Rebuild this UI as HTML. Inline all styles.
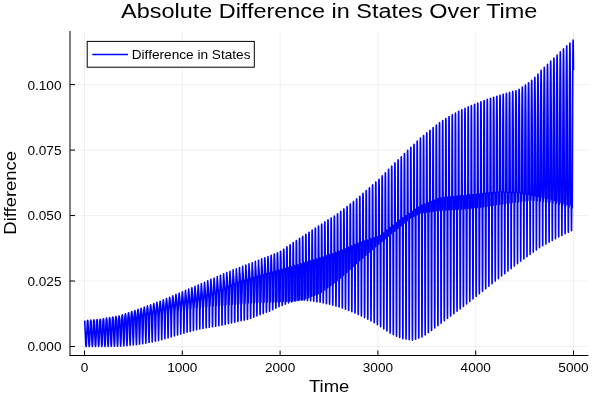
<!DOCTYPE html>
<html><head><meta charset="utf-8"><title>Absolute Difference in States Over Time</title>
<style>
html,body{margin:0;padding:0;background:#fff;}
body{width:600px;height:400px;overflow:hidden;font-family:"Liberation Sans",sans-serif;}
svg{display:block;will-change:transform;}
svg text{font-family:"Liberation Sans",sans-serif;}
</style></head><body>
<svg width="600" height="400" viewBox="0 0 600 400">
<rect x="0" y="0" width="600" height="400" fill="#ffffff"/>
<g stroke="#000" stroke-opacity="0.06" stroke-width="1" fill="none"><line x1="84.50" y1="31.0" x2="84.50" y2="355.5"/><line x1="182.30" y1="31.0" x2="182.30" y2="355.5"/><line x1="280.10" y1="31.0" x2="280.10" y2="355.5"/><line x1="377.90" y1="31.0" x2="377.90" y2="355.5"/><line x1="475.70" y1="31.0" x2="475.70" y2="355.5"/><line x1="573.50" y1="31.0" x2="573.50" y2="355.5"/><line x1="70.0" y1="346.50" x2="588.4" y2="346.50"/><line x1="70.0" y1="281.02" x2="588.4" y2="281.02"/><line x1="70.0" y1="215.55" x2="588.4" y2="215.55"/><line x1="70.0" y1="150.08" x2="588.4" y2="150.08"/><line x1="70.0" y1="84.60" x2="588.4" y2="84.60"/></g>
<polyline fill="none" stroke="#0000ff" stroke-width="1.6" stroke-linejoin="round" stroke-linecap="butt" points="84.50,320.7 84.60,320.9 84.70,321.3 84.79,322.2 84.89,324.4 84.99,326.6 85.09,328.8 85.18,331.0 85.28,333.2 85.38,335.4 85.48,337.7 85.58,339.9 85.67,342.1 85.77,344.3 85.87,345.5 85.97,346.1 86.06,346.5 86.07,346.5 86.16,346.1 86.26,345.6 86.36,344.7 86.46,342.4 86.55,340.2 86.65,338.0 86.75,335.7 86.85,333.5 86.94,331.2 87.04,328.9 87.14,326.7 87.24,324.4 87.34,322.1 87.43,321.2 87.53,320.7 87.63,320.4 87.65,320.4 87.73,320.6 87.83,321.0 87.92,321.5 88.02,323.4 88.12,325.7 88.22,328.0 88.31,330.2 88.41,332.5 88.51,334.8 88.61,337.0 88.71,339.3 88.80,341.5 88.90,343.8 89.00,345.2 89.10,345.9 89.19,346.4 89.22,346.5 89.29,346.2 89.39,345.6 89.49,344.8 89.59,342.7 89.68,340.4 89.78,338.1 89.88,335.8 89.98,333.5 90.07,331.2 90.17,328.9 90.27,326.6 90.37,324.2 90.47,321.9 90.56,321.0 90.66,320.5 90.76,320.2 90.79,320.1 90.86,320.3 90.95,320.6 91.05,321.1 91.15,322.4 91.25,324.7 91.35,327.0 91.44,329.4 91.54,331.7 91.64,334.0 91.74,336.3 91.83,338.7 91.93,341.0 92.03,343.3 92.13,344.9 92.23,345.7 92.32,346.3 92.37,346.5 92.42,346.2 92.52,345.6 92.62,344.8 92.72,343.0 92.81,340.7 92.91,338.3 93.01,336.0 93.11,333.6 93.20,331.2 93.30,328.9 93.40,326.5 93.50,324.0 93.60,321.6 93.69,320.9 93.79,320.3 93.89,320.0 93.94,319.8 93.99,319.9 94.08,320.3 94.18,320.8 94.28,321.5 94.38,323.7 94.48,326.1 94.57,328.5 94.67,330.9 94.77,333.3 94.87,335.6 94.96,338.0 95.06,340.4 95.16,342.7 95.26,344.6 95.36,345.5 95.45,346.1 95.51,346.4 95.55,346.3 95.65,345.6 95.75,344.8 95.84,343.3 95.94,340.9 96.04,338.5 96.14,336.1 96.24,333.7 96.33,331.3 96.43,328.8 96.53,326.3 96.63,323.9 96.72,321.4 96.82,320.7 96.92,320.1 97.02,319.7 97.09,319.6 97.12,319.6 97.21,319.9 97.31,320.4 97.41,321.0 97.51,322.6 97.61,325.1 97.70,327.6 97.80,330.0 97.90,332.5 98.00,334.9 98.09,337.3 98.19,339.8 98.29,342.2 98.39,344.3 98.49,345.2 98.58,346.0 98.66,346.4 98.68,346.3 98.78,345.7 98.88,344.8 98.97,343.6 99.07,341.2 99.17,338.7 99.27,336.3 99.37,333.8 99.46,331.3 99.56,328.8 99.66,326.2 99.76,323.7 99.85,321.3 99.95,320.5 100.05,319.9 100.15,319.5 100.24,319.3 100.25,319.3 100.34,319.5 100.44,320.0 100.54,320.6 100.64,321.5 100.73,324.0 100.83,326.5 100.93,329.1 101.03,331.6 101.13,334.1 101.22,336.6 101.32,339.1 101.42,341.6 101.52,343.9 101.61,344.9 101.71,345.8 101.81,346.4 101.81,346.4 101.91,345.7 102.01,344.9 102.10,343.8 102.20,341.4 102.30,338.9 102.40,336.4 102.50,333.8 102.59,331.2 102.69,328.6 102.79,326.0 102.89,323.4 102.98,321.0 103.08,320.2 103.18,319.5 103.28,319.0 103.38,318.7 103.38,318.7 103.47,318.9 103.57,319.4 103.67,320.0 103.77,320.8 103.86,322.7 103.96,325.4 104.06,328.0 104.16,330.6 104.26,333.2 104.35,335.8 104.45,338.3 104.55,340.9 104.65,343.4 104.74,344.6 104.84,345.5 104.94,346.3 104.96,346.4 105.04,345.8 105.14,344.9 105.23,343.8 105.33,341.7 105.43,339.1 105.53,336.5 105.62,333.8 105.72,331.2 105.82,328.5 105.92,325.8 106.02,323.0 106.11,320.7 106.21,319.8 106.31,319.1 106.41,318.6 106.50,318.2 106.53,318.1 106.60,318.3 106.70,318.8 106.80,319.4 106.90,320.1 106.99,321.4 107.09,324.1 107.19,326.8 107.29,329.5 107.39,332.2 107.48,334.9 107.58,337.6 107.68,340.2 107.78,342.8 107.87,344.2 107.97,345.3 108.07,346.1 108.10,346.4 108.17,345.9 108.27,344.9 108.36,343.8 108.46,341.9 108.56,339.3 108.66,336.6 108.75,333.9 108.85,331.1 108.95,328.3 109.05,325.5 109.15,322.7 109.24,320.4 109.34,319.5 109.44,318.7 109.54,318.1 109.63,317.7 109.68,317.6 109.73,317.7 109.83,318.2 109.93,318.8 110.03,319.5 110.12,320.4 110.22,322.8 110.32,325.6 110.42,328.4 110.51,331.2 110.61,333.9 110.71,336.7 110.81,339.4 110.91,342.1 111.00,343.8 111.10,344.9 111.20,345.9 111.25,346.3 111.30,345.9 111.39,345.0 111.49,343.8 111.59,342.1 111.69,339.4 111.79,336.6 111.88,333.7 111.98,330.9 112.08,328.0 112.18,325.0 112.28,322.0 112.37,320.0 112.47,319.1 112.57,318.3 112.67,317.7 112.76,317.2 112.82,317.0 112.86,317.1 112.96,317.5 113.06,318.0 113.16,318.8 113.25,319.6 113.35,321.0 113.45,323.9 113.55,326.8 113.64,329.7 113.74,332.6 113.84,335.5 113.94,338.4 114.04,341.2 114.13,343.2 114.23,344.5 114.33,345.6 114.40,346.3 114.43,346.0 114.52,344.9 114.62,343.6 114.72,342.2 114.82,339.3 114.92,336.4 115.01,333.4 115.11,330.5 115.21,327.4 115.31,324.4 115.40,321.2 115.50,319.6 115.60,318.6 115.70,317.8 115.80,317.2 115.89,316.7 115.97,316.4 115.99,316.5 116.09,316.8 116.19,317.4 116.28,318.0 116.38,318.8 116.48,319.8 116.58,322.1 116.68,325.1 116.77,328.2 116.87,331.2 116.97,334.2 117.07,337.2 117.17,340.2 117.26,342.4 117.36,344.0 117.46,345.3 117.54,346.3 117.56,346.2 117.65,345.0 117.75,343.5 117.85,341.9 117.95,339.3 118.05,336.2 118.14,333.2 118.24,330.0 118.34,326.9 118.44,323.6 118.53,320.4 118.63,319.1 118.73,318.1 118.83,317.3 118.93,316.7 119.02,316.2 119.12,315.9 119.12,315.9 119.22,316.2 119.32,316.7 119.41,317.3 119.51,318.0 119.61,319.0 119.71,320.1 119.81,323.3 119.90,326.5 120.00,329.7 120.10,332.8 120.20,335.9 120.29,339.0 120.39,341.6 120.49,343.3 120.59,344.8 120.69,346.2 120.69,346.2 120.78,344.9 120.88,343.4 120.98,341.7 121.08,339.1 121.17,336.0 121.27,332.7 121.37,329.5 121.47,326.1 121.57,322.7 121.66,319.6 121.76,318.4 121.86,317.5 121.96,316.6 122.06,315.9 122.15,315.4 122.25,315.0 122.26,314.9 122.35,315.2 122.45,315.6 122.54,316.2 122.64,317.0 122.74,317.9 122.84,318.9 122.94,321.0 123.03,324.4 123.13,327.8 123.23,331.1 123.33,334.3 123.42,337.6 123.52,340.5 123.62,342.4 123.72,344.1 123.82,345.6 123.84,345.9 123.91,344.8 124.01,343.1 124.11,341.3 124.21,338.9 124.30,335.6 124.40,332.2 124.50,328.7 124.60,325.2 124.70,321.7 124.79,318.8 124.89,317.7 124.99,316.6 125.09,315.8 125.18,315.0 125.28,314.4 125.38,313.9 125.41,313.8 125.48,314.0 125.58,314.5 125.67,315.1 125.77,315.8 125.87,316.7 125.97,317.7 126.06,318.9 126.16,322.2 126.26,325.7 126.36,329.2 126.46,332.6 126.55,336.1 126.65,339.3 126.75,341.3 126.85,343.2 126.95,344.9 126.99,345.6 127.04,344.6 127.14,342.8 127.24,340.9 127.34,338.7 127.43,335.2 127.53,331.6 127.63,328.0 127.73,324.3 127.83,320.6 127.92,318.1 128.02,316.9 128.12,315.8 128.22,314.9 128.31,314.1 128.41,313.5 128.51,312.9 128.56,312.7 128.61,312.9 128.71,313.4 128.80,314.0 128.90,314.7 129.00,315.6 129.10,316.6 129.19,317.7 129.29,319.7 129.39,323.4 129.49,327.1 129.59,330.8 129.68,334.4 129.78,338.0 129.88,340.2 129.98,342.3 130.07,344.2 130.13,345.3 130.17,344.5 130.27,342.6 130.37,340.5 130.47,338.2 130.56,334.8 130.66,331.0 130.76,327.2 130.86,323.3 130.95,319.4 131.05,317.3 131.15,316.1 131.25,315.0 131.35,314.1 131.44,313.2 131.54,312.5 131.64,311.9 131.71,311.6 131.74,311.7 131.84,312.2 131.93,312.8 132.03,313.5 132.13,314.4 132.23,315.4 132.32,316.5 132.42,317.7 132.52,321.0 132.62,324.9 132.72,328.8 132.81,332.6 132.91,336.4 133.01,339.0 133.11,341.3 133.20,343.5 133.28,345.0 133.30,344.5 133.40,342.4 133.50,340.2 133.60,337.7 133.69,334.4 133.79,330.4 133.89,326.4 133.99,322.3 134.08,318.2 134.18,316.6 134.28,315.3 134.38,314.2 134.48,313.2 134.57,312.3 134.67,311.6 134.77,310.9 134.85,310.5 134.87,310.6 134.96,311.0 135.06,311.6 135.16,312.4 135.26,313.2 135.36,314.2 135.45,315.3 135.55,316.5 135.65,318.4 135.75,322.5 135.84,326.6 135.94,330.7 136.04,334.7 136.14,337.7 136.24,340.2 136.33,342.6 136.43,344.7 136.43,344.5 136.53,342.3 136.63,339.9 136.73,337.2 136.82,334.0 136.92,329.8 137.02,325.6 137.12,321.3 137.21,317.3 137.31,315.9 137.41,314.6 137.51,313.4 137.61,312.4 137.70,311.5 137.80,310.7 137.90,310.0 138.00,309.4 138.00,309.4 138.09,309.9 138.19,310.5 138.29,311.3 138.39,312.1 138.49,313.1 138.58,314.2 138.68,315.5 138.78,316.9 138.88,320.5 138.97,324.9 139.07,329.3 139.17,333.6 139.27,336.8 139.37,339.6 139.46,342.2 139.55,344.3 139.56,344.1 139.66,341.6 139.76,338.8 139.85,335.9 139.95,332.3 140.05,327.8 140.15,323.2 140.25,318.6 140.34,316.1 140.44,314.7 140.54,313.4 140.64,312.2 140.74,311.2 140.83,310.2 140.93,309.4 141.03,308.7 141.10,308.3 141.13,308.4 141.22,309.0 141.32,309.6 141.42,310.4 141.52,311.3 141.62,312.3 141.71,313.4 141.81,314.6 141.91,316.0 142.01,318.9 142.10,323.4 142.20,328.0 142.30,332.4 142.40,335.6 142.50,338.5 142.59,341.3 142.69,343.8 142.69,343.6 142.79,341.0 142.89,338.2 142.98,335.2 143.08,331.8 143.18,327.2 143.28,322.5 143.38,317.7 143.47,315.6 143.57,314.2 143.67,312.8 143.77,311.6 143.86,310.5 143.96,309.5 144.06,308.6 144.16,307.9 144.26,307.2 144.27,307.1 144.35,307.5 144.45,308.1 144.55,308.9 144.65,309.7 144.74,310.7 144.84,311.8 144.94,313.0 145.04,314.3 145.14,315.7 145.23,319.3 145.33,324.1 145.43,328.9 145.53,332.8 145.62,336.1 145.72,339.2 145.82,342.1 145.86,343.1 145.92,341.4 146.02,338.6 146.11,335.4 146.21,332.1 146.31,327.8 146.41,322.9 146.51,317.9 146.60,315.5 146.70,313.9 146.80,312.5 146.90,311.2 146.99,310.0 147.09,308.9 147.19,307.9 147.29,307.1 147.39,306.3 147.44,305.9 147.48,306.2 147.58,306.7 147.68,307.4 147.78,308.2 147.87,309.1 147.97,310.2 148.07,311.3 148.17,312.6 148.27,314.0 148.36,315.5 148.46,319.9 148.56,325.0 148.66,329.7 148.75,333.3 148.85,336.7 148.95,340.0 149.03,342.5 149.05,342.0 149.15,338.9 149.24,335.8 149.34,332.3 149.44,328.6 149.54,323.4 149.63,318.1 149.73,315.4 149.83,313.8 149.93,312.3 150.03,310.8 150.12,309.6 150.22,308.4 150.32,307.3 150.42,306.4 150.51,305.5 150.61,304.8 150.62,304.8 150.71,305.3 150.81,305.9 150.91,306.7 151.00,307.6 151.10,308.6 151.20,309.7 151.30,310.9 151.40,312.3 151.49,313.8 151.59,315.4 151.69,320.6 151.79,326.1 151.88,330.1 151.98,334.0 152.08,337.6 152.18,341.0 152.20,341.9 152.28,339.4 152.37,336.1 152.47,332.6 152.57,328.7 152.67,324.0 152.76,318.4 152.86,315.4 152.96,313.7 153.06,312.1 153.16,310.6 153.25,309.2 153.35,307.9 153.45,306.7 153.55,305.7 153.64,304.8 153.74,303.9 153.79,303.6 153.84,303.9 153.94,304.6 154.04,305.2 154.13,306.0 154.23,307.0 154.33,308.1 154.43,309.3 154.52,310.6 154.62,312.0 154.72,313.6 154.82,315.7 154.92,321.6 155.01,326.5 155.11,330.8 155.21,334.8 155.31,338.7 155.38,341.2 155.41,340.1 155.50,336.5 155.60,332.9 155.70,328.9 155.80,324.7 155.89,318.9 155.99,315.5 156.09,313.7 156.19,311.9 156.29,310.3 156.38,308.9 156.48,307.5 156.58,306.2 156.68,305.1 156.77,304.1 156.87,303.2 156.96,302.4 156.97,302.5 157.07,303.2 157.17,303.8 157.26,304.5 157.36,305.5 157.46,306.5 157.56,307.7 157.65,308.9 157.75,310.3 157.85,311.8 157.95,313.5 158.05,316.5 158.14,322.3 158.24,327.1 158.34,331.6 158.44,336.0 158.53,340.1 158.55,340.6 158.63,337.1 158.73,333.1 158.83,329.1 158.93,324.7 159.02,319.4 159.12,315.6 159.22,313.7 159.32,311.9 159.41,310.2 159.51,308.6 159.61,307.1 159.71,305.8 159.81,304.6 159.90,303.4 160.00,302.4 160.10,301.5 160.13,301.2 160.20,301.7 160.30,302.4 160.39,303.1 160.49,303.9 160.59,304.9 160.69,306.0 160.78,307.2 160.88,308.6 160.98,310.0 161.08,311.6 161.18,313.3 161.27,317.7 161.37,323.1 161.47,328.2 161.57,333.0 161.66,337.5 161.72,339.8 161.76,338.1 161.86,333.9 161.96,329.6 162.06,325.1 162.15,320.1 162.25,315.5 162.35,313.5 162.45,311.6 162.54,309.9 162.64,308.2 162.74,306.6 162.84,305.2 162.94,303.9 163.03,302.7 163.13,301.6 163.23,300.6 163.31,299.9 163.33,300.0 163.42,300.8 163.52,301.5 163.62,302.3 163.72,303.1 163.82,304.2 163.91,305.3 164.01,306.6 164.11,308.0 164.21,309.6 164.30,311.2 164.40,312.9 164.50,318.8 164.60,324.6 164.70,330.0 164.79,334.8 164.89,338.8 164.89,338.8 164.99,334.9 165.09,330.5 165.19,325.7 165.28,320.7 165.38,315.4 165.48,313.4 165.58,311.4 165.67,309.5 165.77,307.8 165.87,306.2 165.97,304.6 166.07,303.2 166.16,301.9 166.26,300.8 166.36,299.7 166.46,298.7 166.48,298.5 166.55,299.1 166.65,299.9 166.75,300.7 166.85,301.4 166.95,302.4 167.04,303.5 167.14,304.7 167.24,306.1 167.34,307.6 167.43,309.1 167.53,310.8 167.63,313.7 167.73,320.3 167.83,326.4 167.92,331.9 168.02,336.4 168.06,337.9 168.12,336.0 168.22,331.5 168.31,326.5 168.41,321.1 168.51,315.3 168.61,313.2 168.71,311.2 168.80,309.3 168.90,307.4 169.00,305.7 169.10,304.1 169.19,302.6 169.29,301.3 169.39,300.0 169.49,298.8 169.59,297.8 169.65,297.2 169.68,297.4 169.78,298.2 169.88,299.0 169.98,299.9 170.07,300.7 170.17,301.7 170.27,302.9 170.37,304.2 170.47,305.6 170.56,307.1 170.66,308.8 170.76,310.5 170.86,315.2 170.96,322.3 171.05,328.5 171.15,333.7 171.24,336.9 171.25,336.6 171.35,332.7 171.44,327.5 171.54,321.7 171.64,315.4 171.74,313.1 171.84,311.0 171.93,309.0 172.03,307.1 172.13,305.3 172.23,303.7 172.32,302.1 172.42,300.6 172.52,299.3 172.62,298.0 172.72,296.9 172.81,295.9 172.82,295.8 172.91,296.6 173.01,297.4 173.11,298.2 173.20,299.1 173.30,299.9 173.40,301.0 173.50,302.3 173.60,303.7 173.69,305.1 173.79,306.7 173.89,308.4 173.99,309.4 174.08,317.2 174.18,324.5 174.28,330.6 174.38,335.2 174.41,336.0 174.48,333.7 174.57,328.8 174.67,322.7 174.77,315.9 174.87,312.1 174.97,310.9 175.06,308.8 175.16,306.9 175.26,305.0 175.36,303.3 175.45,301.6 175.55,300.1 175.65,298.7 175.75,297.3 175.85,296.1 175.94,295.0 175.99,294.4 176.04,294.9 176.14,295.7 176.24,296.6 176.33,297.5 176.43,298.4 176.53,299.3 176.63,300.5 176.73,301.9 176.82,303.4 176.92,305.0 177.02,306.7 177.12,308.0 177.21,311.3 177.31,319.9 177.41,327.1 177.51,332.6 177.58,335.0 177.61,334.5 177.70,330.3 177.80,324.3 177.90,317.3 178.00,311.4 178.09,311.2 178.19,309.3 178.29,307.2 178.39,305.2 178.49,303.3 178.58,301.5 178.68,299.8 178.78,298.2 178.88,296.8 178.97,295.4 179.07,294.2 179.17,293.1 179.17,293.1 179.27,294.0 179.37,295.0 179.46,295.9 179.56,296.9 179.66,297.9 179.76,298.8 179.86,300.2 179.95,301.7 180.05,303.3 180.15,305.1 180.25,306.9 180.34,307.5 180.44,314.3 180.54,322.9 180.64,329.6 180.74,333.8 180.75,334.1 180.83,331.5 180.93,326.1 181.03,319.0 181.13,310.8 181.22,310.8 181.32,309.8 181.42,307.8 181.52,305.6 181.62,303.5 181.71,301.5 181.81,299.7 181.91,298.0 182.01,296.3 182.10,294.8 182.20,293.5 182.30,292.2 182.34,291.7 182.40,292.3 182.50,293.3 182.59,294.3 182.69,295.4 182.79,296.4 182.89,297.4 182.98,298.5 183.08,300.0 183.18,301.6 183.28,303.4 183.38,305.3 183.47,306.3 183.57,307.2 183.67,317.6 183.77,325.9 183.86,331.6 183.92,333.2 183.96,332.4 184.06,327.8 184.16,320.9 184.26,312.2 184.35,310.1 184.45,310.1 184.55,308.3 184.65,306.1 184.75,303.8 184.84,301.7 184.94,299.7 185.04,297.8 185.14,296.0 185.23,294.4 185.33,292.9 185.43,291.4 185.51,290.4 185.53,290.6 185.63,291.6 185.72,292.7 185.82,293.8 185.92,294.9 186.02,295.9 186.11,297.0 186.21,298.2 186.31,299.9 186.41,301.7 186.51,303.6 186.60,305.1 186.70,305.8 186.80,310.8 186.90,321.1 186.99,328.5 187.09,332.3 187.10,332.3 187.19,329.2 187.29,322.9 187.39,314.1 187.48,309.5 187.58,309.5 187.68,308.6 187.78,306.7 187.87,304.4 187.97,302.0 188.07,299.8 188.17,297.8 188.27,295.8 188.36,294.0 188.46,292.4 188.56,290.8 188.66,289.4 188.68,289.0 188.75,289.9 188.85,291.0 188.95,292.1 189.05,293.3 189.15,294.4 189.24,295.6 189.34,296.7 189.44,298.1 189.54,299.9 189.63,301.8 189.73,303.8 189.83,304.5 189.93,305.2 190.03,314.8 190.12,324.5 190.22,330.4 190.27,331.4 190.32,330.3 190.42,324.9 190.52,316.3 190.61,308.9 190.71,308.9 190.81,308.8 190.91,307.0 191.00,305.0 191.10,302.5 191.20,300.2 191.30,297.9 191.40,295.8 191.49,293.8 191.59,292.0 191.69,290.3 191.79,288.7 191.86,287.7 191.88,288.1 191.98,289.3 192.08,290.4 192.18,291.6 192.28,292.9 192.37,294.1 192.47,295.3 192.57,296.5 192.67,298.1 192.76,300.0 192.86,302.1 192.96,303.2 193.06,304.0 193.16,306.2 193.25,319.0 193.35,327.4 193.44,330.6 193.45,330.5 193.55,326.6 193.64,318.6 193.74,308.3 193.84,308.2 193.94,308.2 194.04,307.4 194.13,305.4 194.23,303.2 194.33,300.6 194.43,298.2 194.52,295.9 194.62,293.7 194.72,291.7 194.82,289.9 194.92,288.1 195.01,286.6 195.03,286.4 195.11,287.5 195.21,288.7 195.31,290.0 195.41,291.2 195.50,292.5 195.60,293.7 195.70,295.0 195.80,296.3 195.89,298.0 195.99,300.1 196.09,301.8 196.19,302.6 196.29,303.4 196.38,311.1 196.48,323.0 196.58,329.1 196.61,329.7 196.68,328.0 196.77,321.1 196.87,309.8 196.97,307.8 197.07,307.8 197.17,307.8 197.26,306.0 197.36,303.8 197.46,301.5 197.56,298.8 197.65,296.2 197.75,293.8 197.85,291.6 197.95,289.5 198.05,287.7 198.14,285.9 198.20,285.0 198.24,285.6 198.34,286.9 198.44,288.1 198.53,289.4 198.63,290.7 198.73,291.9 198.83,293.2 198.93,294.5 199.02,295.8 199.12,297.8 199.22,300.1 199.32,301.0 199.41,301.9 199.51,302.8 199.61,316.1 199.71,326.1 199.79,329.0 199.81,328.8 199.90,323.7 200.00,313.3 200.10,307.5 200.20,307.5 200.30,307.5 200.39,306.9 200.49,304.6 200.59,302.3 200.69,299.7 200.78,296.9 200.88,294.2 200.98,291.7 201.08,289.4 201.18,287.3 201.27,285.4 201.37,283.7 201.38,283.6 201.47,284.9 201.57,286.2 201.66,287.4 201.76,288.7 201.86,290.1 201.96,291.4 202.06,292.7 202.15,294.0 202.25,295.3 202.35,297.7 202.45,299.1 202.54,300.2 202.64,301.2 202.74,307.6 202.84,321.7 202.94,328.0 202.96,328.4 203.03,326.5 203.13,318.5 203.23,307.2 203.33,307.2 203.42,307.2 203.52,307.1 203.62,305.5 203.72,303.1 203.82,300.7 203.91,297.8 204.01,294.9 204.11,292.1 204.21,289.5 204.31,287.2 204.40,285.0 204.50,283.1 204.55,282.2 204.60,282.9 204.70,284.3 204.79,285.4 204.89,286.8 204.99,288.1 205.09,289.5 205.19,290.8 205.28,292.2 205.38,293.5 205.48,295.0 205.58,297.1 205.67,298.3 205.77,299.4 205.87,300.6 205.97,315.4 206.07,325.5 206.14,327.8 206.16,327.6 206.26,322.7 206.36,312.0 206.46,306.9 206.55,306.8 206.65,306.8 206.75,306.6 206.85,304.0 206.95,301.5 207.04,298.9 207.14,295.8 207.24,292.7 207.34,289.9 207.43,287.2 207.53,284.8 207.63,282.7 207.73,280.8 207.73,280.7 207.83,282.3 207.92,283.6 208.02,284.8 208.12,286.2 208.22,287.6 208.31,288.9 208.41,290.3 208.51,291.7 208.61,293.1 208.71,294.8 208.80,296.1 208.90,297.4 209.00,298.7 209.10,306.7 209.19,321.4 209.29,327.1 209.32,327.3 209.39,325.5 209.49,317.4 209.59,306.5 209.68,306.5 209.78,306.5 209.88,306.5 209.98,305.2 210.08,302.5 210.17,299.8 210.27,297.1 210.37,293.7 210.47,290.5 210.56,287.6 210.66,284.9 210.76,282.5 210.86,280.3 210.91,279.3 210.96,280.2 211.05,281.7 211.15,283.0 211.25,284.2 211.35,285.6 211.44,287.0 211.54,288.4 211.64,289.8 211.74,291.2 211.84,292.7 211.93,293.8 212.03,295.2 212.13,296.6 212.23,298.0 212.32,315.1 212.42,325.0 212.49,326.8 212.52,326.6 212.62,321.7 212.72,310.5 212.81,306.2 212.91,306.2 213.01,306.2 213.11,306.2 213.20,303.6 213.30,300.8 213.40,298.0 213.50,295.1 213.60,291.5 213.69,288.2 213.79,285.2 213.89,282.5 213.99,280.0 214.08,278.0 214.09,278.0 214.18,279.7 214.28,281.2 214.38,282.3 214.48,283.7 214.57,285.1 214.67,286.5 214.77,288.0 214.87,289.4 214.97,290.8 215.06,292.0 215.16,292.8 215.26,294.3 215.36,295.9 215.45,305.8 215.55,321.1 215.65,326.2 215.67,326.3 215.75,324.5 215.85,316.3 215.94,305.4 216.04,305.9 216.14,305.9 216.24,305.9 216.33,304.9 216.43,302.0 216.53,299.0 216.63,296.0 216.73,292.9 216.82,289.2 216.92,285.8 217.02,282.7 217.12,280.0 217.21,277.5 217.26,276.6 217.31,277.6 217.41,279.3 217.51,280.5 217.61,281.7 217.70,283.1 217.80,284.6 217.90,286.0 218.00,287.5 218.09,288.9 218.19,290.4 218.29,290.6 218.39,291.7 218.49,293.4 218.58,295.1 218.68,314.7 218.78,324.4 218.85,325.8 218.88,325.6 218.97,320.7 219.07,308.8 219.17,305.6 219.27,305.6 219.37,305.6 219.46,305.6 219.56,303.3 219.66,300.2 219.76,297.1 219.86,294.0 219.95,290.6 220.05,286.7 220.15,283.2 220.25,280.1 220.34,277.4 220.44,275.2 220.44,275.3 220.54,277.2 220.64,278.7 220.74,279.9 220.83,281.1 220.93,282.6 221.03,284.0 221.13,285.5 221.22,287.0 221.32,288.4 221.42,289.2 221.52,289.1 221.62,290.7 221.71,292.6 221.81,304.7 221.91,320.6 222.01,325.1 222.02,325.1 222.10,323.3 222.20,314.8 222.30,304.0 222.40,305.4 222.50,305.4 222.59,305.3 222.69,304.9 222.79,301.6 222.89,298.3 222.98,295.1 223.08,291.8 223.18,288.1 223.28,284.2 223.38,280.7 223.47,277.6 223.57,274.9 223.61,273.9 223.67,275.1 223.77,276.9 223.87,278.3 223.96,279.2 224.06,280.6 224.16,282.1 224.26,283.5 224.35,285.0 224.45,286.5 224.55,287.8 224.65,287.8 224.75,287.7 224.84,289.7 224.94,291.8 225.04,314.0 225.14,323.3 225.20,324.4 225.23,324.1 225.33,319.2 225.43,306.7 225.53,304.2 225.63,305.1 225.72,305.1 225.82,305.1 225.92,303.2 226.02,299.8 226.11,296.3 226.21,292.9 226.31,289.5 226.41,285.5 226.51,281.5 226.60,278.0 226.70,274.9 226.79,272.6 226.80,272.8 226.90,274.9 226.99,276.5 227.09,277.7 227.19,278.6 227.29,280.1 227.39,281.6 227.48,283.0 227.58,284.5 227.68,286.0 227.78,286.4 227.87,286.3 227.97,286.7 228.07,288.9 228.17,303.4 228.27,319.7 228.36,323.6 228.38,323.6 228.46,321.9 228.56,313.0 228.66,302.3 228.75,304.6 228.85,304.8 228.95,304.8 229.05,304.8 229.15,301.4 229.24,297.8 229.34,294.2 229.44,290.6 229.54,287.0 229.64,282.8 229.73,278.8 229.83,275.3 229.93,272.2 229.96,271.2 230.03,272.7 230.12,274.7 230.22,276.1 230.32,277.0 230.42,278.1 230.52,279.6 230.61,281.1 230.71,282.6 230.81,284.1 230.91,285.0 231.00,285.0 231.10,284.9 231.20,285.9 231.30,288.3 231.40,313.1 231.49,322.1 231.55,322.9 231.59,322.7 231.69,317.6 231.79,304.4 231.88,303.0 231.98,304.5 232.08,304.5 232.18,304.5 232.28,303.1 232.37,299.4 232.47,295.7 232.57,291.9 232.67,288.2 232.76,284.3 232.86,279.8 232.96,275.8 233.06,272.4 233.14,269.9 233.16,270.3 233.25,272.6 233.35,274.3 233.45,275.4 233.55,276.1 233.65,277.6 233.74,279.1 233.84,280.6 233.94,282.1 234.04,283.6 234.13,283.6 234.23,283.5 234.33,283.5 234.43,285.8 234.53,302.4 234.62,318.6 234.72,322.2 234.73,322.2 234.82,320.3 234.92,311.2 235.01,301.4 235.11,304.1 235.21,304.3 235.31,304.3 235.41,304.3 235.50,301.2 235.60,297.3 235.70,293.5 235.80,289.6 235.89,285.7 235.99,281.1 236.09,276.7 236.19,272.9 236.29,269.6 236.32,268.7 236.38,270.4 236.48,272.3 236.58,273.7 236.68,274.5 236.77,275.7 236.87,277.2 236.97,278.7 237.07,280.2 237.17,281.7 237.26,282.2 237.36,282.2 237.46,282.1 237.56,283.1 237.65,286.5 237.75,312.1 237.85,320.8 237.91,321.5 237.95,321.2 238.05,315.9 238.14,302.8 238.24,302.6 238.34,304.0 238.44,304.0 238.53,304.0 238.63,303.2 238.73,299.2 238.83,295.1 238.93,291.1 239.02,287.0 239.12,282.8 239.22,277.9 239.32,273.6 239.42,270.0 239.49,267.5 239.51,268.0 239.61,270.3 239.71,272.0 239.81,273.0 239.90,273.7 240.00,275.2 240.10,276.7 240.20,278.2 240.30,279.8 240.39,280.9 240.49,280.9 240.59,280.8 240.69,280.8 240.78,283.3 240.88,301.5 240.98,317.5 241.08,320.8 241.08,320.8 241.18,318.7 241.27,309.5 241.37,300.9 241.47,303.7 241.57,303.7 241.66,303.7 241.76,303.7 241.86,301.2 241.96,297.0 242.06,292.8 242.15,288.6 242.25,284.4 242.35,279.5 242.45,274.7 242.54,270.6 242.64,267.1 242.67,266.2 242.74,268.1 242.84,270.2 242.94,271.5 243.03,272.2 243.13,273.5 243.23,275.1 243.33,276.7 243.42,278.2 243.52,279.8 243.62,280.0 243.72,279.9 243.82,279.9 243.91,280.9 244.01,286.0 244.11,311.3 244.21,319.6 244.26,320.1 244.31,319.7 244.40,314.2 244.50,301.4 244.60,302.3 244.70,303.5 244.79,303.4 244.89,303.4 244.99,303.3 245.09,299.0 245.19,294.7 245.28,290.3 245.38,285.9 245.48,281.5 245.58,276.1 245.67,271.5 245.77,267.6 245.85,265.0 245.87,265.7 245.97,268.1 246.07,269.9 246.16,270.9 246.26,271.8 246.36,273.4 246.46,275.1 246.55,276.7 246.65,278.3 246.75,279.1 246.85,279.1 246.95,279.0 247.04,279.0 247.14,281.6 247.24,301.1 247.34,316.5 247.43,319.4 247.44,319.4 247.53,317.1 247.63,307.9 247.73,300.6 247.83,303.2 247.92,303.2 248.02,303.2 248.12,303.2 248.22,301.2 248.31,296.7 248.41,292.2 248.51,287.7 248.61,283.2 248.71,278.0 248.80,272.8 248.90,268.4 249.00,264.7 249.02,263.9 249.10,266.0 249.20,268.1 249.29,269.5 249.39,270.1 249.49,271.7 249.59,273.4 249.68,275.1 249.78,276.8 249.88,278.2 249.98,278.2 250.08,278.1 250.17,278.1 250.27,279.1 250.37,285.7 250.47,310.2 250.56,317.9 250.61,318.3 250.66,317.8 250.76,312.2 250.86,300.0 250.96,302.1 251.05,302.9 251.15,302.9 251.25,302.9 251.35,302.9 251.44,299.0 251.54,294.3 251.64,289.7 251.74,285.0 251.84,280.2 251.93,274.5 252.03,269.5 252.13,265.3 252.20,262.7 252.23,263.6 252.32,266.1 252.42,267.9 252.52,268.9 252.62,270.1 252.72,271.8 252.81,273.5 252.91,275.3 253.01,277.0 253.11,277.3 253.20,277.3 253.30,277.2 253.40,277.2 253.50,280.2 253.60,302.2 253.69,315.2 253.78,317.1 253.79,317.1 253.89,314.0 253.99,304.5 254.09,300.8 254.18,302.8 254.28,302.8 254.38,302.8 254.48,302.8 254.57,300.8 254.67,295.9 254.77,291.0 254.87,286.1 254.97,281.2 255.06,275.4 255.16,269.9 255.26,265.2 255.36,261.4 255.36,261.5 255.45,264.4 255.55,266.5 255.65,267.7 255.75,268.6 255.85,270.4 255.94,272.2 256.04,274.0 256.14,275.8 256.24,276.4 256.33,276.4 256.43,276.3 256.53,276.3 256.63,278.3 256.73,294.8 256.82,312.1 256.92,315.9 256.93,315.9 257.02,314.3 257.12,306.8 257.21,299.8 257.31,302.6 257.41,302.6 257.51,302.6 257.61,302.6 257.70,302.4 257.80,297.4 257.90,292.3 258.00,287.2 258.10,282.1 258.19,276.4 258.29,270.4 258.39,265.3 258.49,261.1 258.51,260.2 258.58,262.5 258.68,264.9 258.78,266.4 258.88,267.1 258.98,269.0 259.07,270.9 259.17,272.7 259.27,274.6 259.37,275.5 259.46,275.5 259.56,275.5 259.66,275.4 259.76,276.4 259.86,285.8 259.95,308.1 260.05,314.5 260.09,314.7 260.15,314.0 260.25,308.5 260.34,298.7 260.44,302.4 260.54,302.5 260.64,302.5 260.74,302.5 260.83,302.5 260.93,299.3 261.03,293.7 261.13,288.1 261.22,282.4 261.32,276.6 261.42,270.1 261.52,264.7 261.62,260.5 261.67,258.9 261.71,260.1 261.81,262.6 261.91,264.3 262.01,265.3 262.10,267.1 262.20,269.3 262.30,271.5 262.40,273.8 262.50,274.6 262.59,274.6 262.69,274.6 262.79,274.5 262.89,274.5 262.99,278.2 263.08,303.1 263.18,312.6 263.24,313.5 263.28,313.3 263.38,309.5 263.47,300.7 263.57,301.4 263.67,302.3 263.77,302.3 263.87,302.3 263.96,302.3 264.06,302.3 264.16,296.5 264.26,289.4 264.35,282.6 264.45,276.1 264.55,269.1 264.65,263.5 264.75,259.4 264.82,257.7 264.84,258.0 264.94,259.9 265.04,261.9 265.14,263.3 265.23,265.2 265.33,267.7 265.43,270.4 265.53,273.3 265.63,273.7 265.72,273.7 265.82,273.7 265.92,273.7 266.02,273.6 266.11,276.2 266.21,296.8 266.31,310.2 266.40,312.3 266.41,312.3 266.51,309.9 266.60,302.7 266.70,300.2 266.80,302.2 266.90,302.2 266.99,302.2 267.09,302.2 267.19,302.2 267.29,301.8 267.39,292.7 267.48,284.2 267.58,276.4 267.68,268.9 267.78,262.7 267.88,258.5 267.97,256.5 267.98,256.5 268.07,257.7 268.17,259.7 268.27,261.4 268.36,263.3 268.46,266.2 268.56,269.5 268.66,272.9 268.76,272.9 268.85,272.8 268.95,272.8 269.05,272.8 269.15,272.7 269.24,274.2 269.34,289.2 269.44,307.0 269.54,311.0 269.56,311.1 269.64,309.9 269.73,304.2 269.83,299.1 269.93,302.0 270.03,302.0 270.12,302.0 270.22,302.0 270.32,302.0 270.42,302.0 270.52,298.7 270.61,287.8 270.71,278.1 270.81,269.6 270.91,262.3 271.00,257.7 271.10,255.5 271.13,255.3 271.20,255.8 271.30,257.6 271.40,259.6 271.49,261.5 271.59,264.8 271.69,268.7 271.79,272.0 271.88,272.0 271.98,271.9 272.08,271.9 272.18,271.9 272.28,271.9 272.37,272.1 272.47,280.1 272.57,302.8 272.67,309.4 272.71,309.7 272.76,309.2 272.86,305.0 272.96,298.0 273.06,301.9 273.16,301.9 273.25,301.9 273.35,301.9 273.45,301.9 273.55,301.9 273.65,301.9 273.74,294.4 273.84,281.9 273.94,271.5 274.04,262.6 274.13,257.1 274.23,254.5 274.29,254.1 274.33,254.3 274.43,255.6 274.53,257.7 274.62,259.8 274.72,263.5 274.82,268.3 274.92,271.1 275.01,271.1 275.11,271.1 275.21,271.0 275.31,271.0 275.41,271.0 275.50,270.9 275.60,274.3 275.70,297.5 275.80,307.2 275.87,308.2 275.89,308.1 275.99,305.3 276.09,299.4 276.19,301.0 276.29,301.7 276.38,301.7 276.48,301.7 276.58,301.7 276.68,301.7 276.77,301.7 276.87,301.7 276.97,288.8 277.07,275.0 277.17,263.9 277.26,256.9 277.36,253.6 277.44,252.9 277.46,252.9 277.56,253.8 277.65,255.9 277.75,258.4 277.85,262.3 277.95,268.2 278.05,270.2 278.14,270.2 278.24,270.2 278.34,270.1 278.44,270.1 278.54,270.1 278.63,270.1 278.73,272.1 278.83,291.1 278.93,304.5 279.02,306.7 279.02,306.7 279.12,305.1 279.22,300.3 279.32,299.7 279.42,301.6 279.51,301.6 279.61,301.6 279.71,301.6 279.81,301.6 279.90,301.6 280.00,301.6 280.10,301.4 280.20,281.7 280.30,266.8 280.39,257.1 280.49,252.6 280.59,251.4 280.60,251.4 280.69,251.8 280.78,253.8 280.88,256.8 280.98,261.2 281.08,268.6 281.18,269.3 281.27,269.3 281.37,269.3 281.47,269.3 281.57,269.2 281.66,269.2 281.76,269.2 281.86,269.9 281.96,283.4 282.06,301.2 282.15,305.4 282.18,305.4 282.25,304.6 282.35,300.8 282.45,298.4 282.54,301.4 282.64,301.4 282.74,301.4 282.84,301.4 282.94,301.4 283.03,301.4 283.13,301.4 283.23,301.4 283.33,294.7 283.43,272.9 283.52,258.0 283.62,251.2 283.72,249.3 283.76,249.2 283.82,249.3 283.91,251.0 284.01,254.6 284.11,260.0 284.21,268.5 284.31,268.4 284.40,268.4 284.50,268.4 284.60,268.4 284.70,268.3 284.79,268.3 284.89,268.3 284.99,268.3 285.09,274.2 285.19,297.1 285.28,303.8 285.33,304.2 285.38,303.9 285.48,301.0 285.58,297.5 285.67,301.3 285.77,301.3 285.87,301.3 285.97,301.3 286.07,301.3 286.16,301.3 286.26,301.3 286.36,301.3 286.46,301.3 286.55,285.5 286.65,261.9 286.75,250.6 286.85,247.2 286.91,246.9 286.95,246.9 287.04,248.3 287.14,252.5 287.24,259.3 287.34,267.6 287.44,267.6 287.53,267.5 287.63,267.5 287.73,267.5 287.83,267.4 287.92,267.4 288.02,267.4 288.12,267.4 288.22,270.2 288.32,291.9 288.41,301.8 288.49,302.9 288.51,302.9 288.61,300.9 288.71,297.7 288.80,300.6 288.90,301.1 289.00,301.1 289.10,301.1 289.20,301.1 289.29,301.1 289.39,301.1 289.49,301.1 289.59,301.1 289.68,301.1 289.78,272.8 289.88,252.0 289.98,245.4 290.07,244.7 290.08,244.7 290.17,245.5 290.27,250.1 290.37,259.4 290.47,266.7 290.56,266.7 290.66,266.6 290.76,266.6 290.86,266.6 290.96,266.6 291.05,266.5 291.15,266.5 291.25,266.5 291.35,267.8 291.44,285.7 291.54,299.4 291.64,301.9 291.64,301.9 291.74,300.8 291.84,297.8 291.93,299.2 292.03,301.0 292.13,301.0 292.23,301.0 292.32,301.0 292.42,301.0 292.52,301.0 292.62,301.0 292.72,300.9 292.81,300.9 292.91,282.4 293.01,254.3 293.11,244.3 293.21,242.6 293.22,242.6 293.30,243.0 293.40,246.5 293.50,255.0 293.60,265.8 293.69,265.8 293.79,265.8 293.89,265.7 293.99,265.7 294.09,265.7 294.18,265.6 294.28,265.6 294.38,265.6 294.48,265.6 294.57,277.9 294.67,296.6 294.77,301.1 294.80,301.1 294.87,300.6 294.97,298.0 295.06,297.7 295.16,300.8 295.26,300.8 295.36,300.8 295.45,300.8 295.55,300.8 295.65,300.8 295.75,300.8 295.85,300.8 295.94,300.8 296.04,293.3 296.14,258.0 296.24,243.8 296.33,240.6 296.38,240.5 296.43,240.6 296.53,243.2 296.63,250.6 296.73,264.2 296.82,264.9 296.92,264.9 297.02,264.8 297.12,264.8 297.22,264.8 297.31,264.8 297.41,264.7 297.51,264.7 297.61,264.7 297.70,268.4 297.80,292.6 297.90,299.9 297.96,300.4 298.00,300.2 298.10,298.0 298.19,296.4 298.29,300.3 298.39,300.3 298.49,300.3 298.58,300.2 298.68,300.2 298.78,300.2 298.88,300.2 298.98,300.1 299.07,300.1 299.17,300.1 299.27,263.5 299.37,244.2 299.46,238.8 299.53,238.4 299.56,238.4 299.66,240.0 299.76,246.3 299.86,258.1 299.95,264.0 300.05,264.0 300.15,264.0 300.25,263.9 300.34,263.9 300.44,263.9 300.54,263.8 300.64,263.8 300.74,263.8 300.83,265.8 300.93,287.6 301.03,298.6 301.11,300.0 301.13,300.0 301.22,298.4 301.32,296.2 301.42,299.9 301.52,300.0 301.62,300.0 301.71,299.9 301.81,299.9 301.91,299.9 302.01,299.8 302.11,299.8 302.20,299.8 302.30,299.7 302.40,271.6 302.50,245.8 302.59,237.4 302.69,236.3 302.69,236.3 302.79,237.2 302.89,242.2 302.99,252.6 303.08,263.1 303.18,263.0 303.28,263.0 303.38,263.0 303.47,263.0 303.57,262.9 303.67,262.9 303.77,262.9 303.87,262.8 303.96,262.8 304.06,281.0 304.16,297.1 304.26,300.2 304.27,300.2 304.35,299.2 304.45,296.3 304.55,297.8 304.65,298.8 304.75,298.8 304.84,298.8 304.94,298.7 305.04,298.7 305.14,298.6 305.23,298.6 305.33,298.6 305.43,298.5 305.53,281.2 305.63,248.7 305.72,236.5 305.82,234.3 305.84,234.3 305.92,234.6 306.02,238.4 306.11,247.6 306.21,262.1 306.31,262.1 306.41,262.1 306.51,262.0 306.60,262.0 306.70,262.0 306.80,262.0 306.90,261.9 307.00,261.9 307.09,261.9 307.19,272.0 307.29,294.5 307.39,300.3 307.42,300.5 307.48,300.0 307.58,297.0 307.68,295.5 307.78,297.6 307.88,297.6 307.97,297.6 308.07,297.5 308.17,297.5 308.27,297.5 308.36,297.4 308.46,297.4 308.56,297.3 308.66,292.4 308.76,253.3 308.85,236.4 308.95,232.4 309.00,232.2 309.05,232.3 309.15,234.8 309.24,242.7 309.34,258.6 309.44,261.2 309.54,261.1 309.64,261.1 309.73,261.1 309.83,261.1 309.93,261.0 310.03,261.0 310.12,261.0 310.22,260.9 310.32,262.4 310.42,289.5 310.52,299.8 310.58,300.8 310.61,300.7 310.71,298.2 310.81,294.7 310.91,296.5 311.00,296.4 311.10,296.4 311.20,296.3 311.30,296.3 311.40,296.3 311.49,296.2 311.59,296.2 311.69,296.2 311.79,296.1 311.88,263.8 311.98,238.7 312.08,231.0 312.17,230.1 312.18,230.1 312.28,231.3 312.37,237.1 312.47,249.6 312.57,260.2 312.67,260.2 312.77,260.2 312.86,260.1 312.96,260.1 313.06,260.1 313.16,260.1 313.25,260.0 313.35,260.0 313.45,260.0 313.55,280.2 313.65,297.9 313.74,301.3 313.75,301.3 313.84,299.9 313.94,295.6 314.04,295.3 314.13,295.2 314.23,295.2 314.33,295.2 314.43,295.1 314.53,295.1 314.62,295.0 314.72,295.0 314.82,295.0 314.92,294.9 315.01,277.4 315.11,243.7 315.21,230.6 315.31,228.1 315.33,228.1 315.41,228.4 315.50,232.3 315.60,241.9 315.70,259.3 315.80,259.3 315.89,259.2 315.99,259.2 316.09,259.2 316.19,259.1 316.29,259.1 316.38,259.1 316.48,259.1 316.58,259.0 316.68,265.9 316.77,293.6 316.87,301.4 316.92,301.8 316.97,301.4 317.07,297.5 317.17,292.9 317.26,294.0 317.36,294.0 317.46,294.0 317.56,293.9 317.66,293.9 317.75,293.9 317.85,293.8 317.95,293.8 318.05,293.7 318.14,293.7 318.24,252.3 318.34,231.8 318.44,226.4 318.50,226.0 318.54,226.1 318.63,228.2 318.73,235.7 318.83,252.2 318.93,258.3 319.02,258.3 319.12,258.3 319.22,258.2 319.32,258.2 319.42,258.2 319.51,258.1 319.61,258.1 319.71,258.1 319.81,258.1 319.90,285.9 320.00,300.4 320.08,302.3 320.10,302.3 320.20,299.6 320.30,293.9 320.39,292.7 320.49,292.6 320.59,292.6 320.69,292.5 320.78,292.4 320.88,292.4 320.98,292.3 321.08,292.2 321.18,292.2 321.27,292.1 321.37,263.9 321.47,235.2 321.57,225.3 321.66,224.0 321.67,224.0 321.76,224.8 321.86,230.2 321.96,242.8 322.06,257.3 322.15,257.2 322.25,257.2 322.35,257.2 322.45,257.1 322.55,257.1 322.64,257.1 322.74,257.0 322.84,257.0 322.94,257.0 323.03,273.6 323.13,297.4 323.23,302.9 323.25,302.9 323.33,301.7 323.43,295.8 323.52,290.5 323.62,290.4 323.72,290.3 323.82,290.2 323.91,290.2 324.01,290.1 324.11,290.0 324.21,290.0 324.31,289.9 324.40,289.8 324.50,278.6 324.60,241.5 324.70,225.5 324.79,222.0 324.83,221.9 324.89,222.1 324.99,225.4 325.09,234.7 325.19,256.1 325.28,256.2 325.38,256.1 325.48,256.1 325.58,256.0 325.67,256.0 325.77,256.0 325.87,255.9 325.97,255.9 326.07,255.9 326.16,255.8 326.26,291.2 326.36,302.7 326.42,303.6 326.46,303.3 326.56,298.6 326.65,289.7 326.75,288.1 326.85,288.1 326.95,288.0 327.04,287.9 327.14,287.8 327.24,287.8 327.34,287.7 327.44,287.6 327.53,287.6 327.63,287.5 327.73,250.7 327.83,227.5 327.92,220.5 328.00,219.9 328.02,219.9 328.12,221.5 328.22,228.4 328.32,244.7 328.41,255.1 328.51,255.0 328.61,255.0 328.71,255.0 328.80,254.9 328.90,254.9 329.00,254.9 329.10,254.8 329.20,254.8 329.29,254.7 329.39,278.8 329.49,300.1 329.59,304.2 329.59,304.2 329.68,301.9 329.78,293.3 329.88,285.9 329.98,285.8 330.08,285.7 330.17,285.7 330.27,285.6 330.37,285.5 330.47,285.4 330.56,285.4 330.66,285.3 330.76,285.2 330.86,268.4 330.96,234.7 331.05,220.7 331.15,218.0 331.18,217.9 331.25,218.3 331.35,222.1 331.44,232.9 331.54,254.0 331.64,253.9 331.74,253.9 331.84,253.9 331.93,253.8 332.03,253.8 332.13,253.8 332.23,253.7 332.33,253.7 332.42,253.7 332.52,256.6 332.62,292.6 332.72,304.3 332.77,305.1 332.81,304.7 332.91,298.8 333.01,286.8 333.11,283.5 333.21,283.5 333.30,283.4 333.40,283.3 333.50,283.3 333.60,283.2 333.69,283.1 333.79,283.0 333.89,283.0 333.99,282.9 334.09,247.1 334.18,223.9 334.28,216.7 334.36,216.0 334.38,216.0 334.48,217.5 334.57,224.4 334.67,241.2 334.77,252.8 334.87,252.8 334.97,252.8 335.06,252.7 335.16,252.7 335.26,252.7 335.36,252.6 335.45,252.6 335.55,252.6 335.65,252.5 335.75,278.1 335.85,301.4 335.94,306.1 335.95,306.1 336.04,303.6 336.14,293.5 336.24,281.3 336.34,281.2 336.43,281.1 336.53,281.1 336.63,281.0 336.73,280.9 336.82,280.8 336.92,280.8 337.02,280.7 337.12,280.6 337.22,265.3 337.31,231.3 337.41,216.7 337.51,213.7 337.54,213.7 337.61,213.9 337.70,217.8 337.80,229.0 337.90,251.7 338.00,251.7 338.10,251.7 338.19,251.6 338.29,251.6 338.39,251.6 338.49,251.5 338.58,251.5 338.68,251.5 338.78,251.4 338.88,255.7 338.98,293.2 339.07,306.0 339.13,307.0 339.17,306.7 339.27,300.1 339.37,284.9 339.46,278.7 339.56,278.6 339.66,278.5 339.76,278.4 339.86,278.3 339.95,278.2 340.05,278.1 340.15,278.0 340.25,278.0 340.34,277.9 340.44,243.3 340.54,219.7 340.64,212.1 340.72,211.3 340.74,211.3 340.83,212.8 340.93,219.8 341.03,237.4 341.13,250.5 341.23,250.5 341.32,250.4 341.42,250.4 341.52,250.4 341.62,250.3 341.71,250.3 341.81,250.2 341.91,250.2 342.01,250.1 342.11,277.7 342.20,302.7 342.30,308.1 342.31,308.1 342.40,305.5 342.50,293.7 342.59,275.8 342.69,275.7 342.79,275.6 342.89,275.6 342.99,275.5 343.08,275.4 343.18,275.3 343.28,275.2 343.38,275.1 343.47,275.0 343.57,261.3 343.67,227.1 343.77,212.2 343.87,209.0 343.90,208.9 343.96,209.2 344.06,212.9 344.16,224.6 344.26,249.2 344.35,249.1 344.45,249.1 344.55,249.1 344.65,249.0 344.75,249.0 344.84,248.9 344.94,248.9 345.04,248.9 345.14,248.8 345.23,254.7 345.33,293.9 345.43,308.0 345.49,309.3 345.53,308.9 345.63,301.7 345.72,283.1 345.82,272.9 345.92,272.8 346.02,272.7 346.12,272.6 346.21,272.5 346.31,272.4 346.41,272.4 346.51,272.3 346.60,272.2 346.70,272.1 346.80,239.1 346.90,215.3 347.00,207.4 347.08,206.5 347.09,206.5 347.19,207.9 347.29,214.9 347.39,233.2 347.48,247.8 347.58,247.8 347.68,247.7 347.78,247.7 347.88,247.7 347.97,247.6 348.07,247.6 348.17,247.5 348.27,247.5 348.36,247.4 348.46,277.4 348.56,304.2 348.66,310.4 348.67,310.4 348.76,307.8 348.85,294.4 348.95,270.0 349.05,270.0 349.15,269.9 349.24,269.8 349.34,269.7 349.44,269.6 349.54,269.5 349.64,269.4 349.73,269.3 349.83,269.2 349.93,257.1 350.03,222.7 350.12,207.6 350.22,204.2 350.26,204.1 350.32,204.3 350.42,208.0 350.52,220.0 350.61,246.3 350.71,246.4 350.81,246.4 350.91,246.4 351.00,246.3 351.10,246.3 351.20,246.2 351.30,246.2 351.40,246.2 351.49,246.1 351.59,253.7 351.69,294.7 351.79,310.2 351.85,311.7 351.89,311.4 351.98,303.7 352.08,282.1 352.18,267.1 352.28,267.0 352.37,266.9 352.47,266.8 352.57,266.8 352.67,266.7 352.77,266.6 352.86,266.5 352.96,266.4 353.06,266.3 353.16,234.8 353.25,210.9 353.35,202.6 353.44,201.6 353.45,201.6 353.55,202.9 353.65,210.0 353.74,228.9 353.84,245.1 353.94,245.1 354.04,245.0 354.13,245.0 354.23,245.0 354.33,244.9 354.43,244.9 354.53,244.8 354.62,244.8 354.72,244.7 354.82,277.5 354.92,306.1 355.01,313.1 355.03,313.1 355.11,310.4 355.21,295.6 355.31,264.3 355.41,264.2 355.50,264.1 355.60,264.0 355.70,263.9 355.80,263.8 355.89,263.7 355.99,263.6 356.09,263.6 356.19,263.5 356.29,252.9 356.38,218.1 356.48,202.7 356.58,199.0 356.62,198.9 356.68,199.1 356.78,202.8 356.87,215.1 356.97,242.5 357.07,243.7 357.17,243.7 357.26,243.7 357.36,243.6 357.46,243.6 357.56,243.5 357.66,243.5 357.75,243.5 357.85,243.4 357.95,252.9 358.05,295.9 358.14,312.7 358.21,314.5 358.24,314.2 358.34,306.1 358.44,282.0 358.54,261.3 358.63,261.2 358.73,261.2 358.83,261.1 358.93,261.0 359.02,260.9 359.12,260.8 359.22,260.7 359.32,260.6 359.42,260.5 359.51,230.3 359.61,205.9 359.71,197.3 359.80,196.2 359.81,196.2 359.90,197.4 360.00,204.6 360.10,223.8 360.20,242.4 360.30,242.4 360.39,242.4 360.49,242.3 360.59,242.3 360.69,242.3 360.78,242.2 360.88,242.2 360.98,242.2 361.08,242.1 361.18,274.2 361.27,306.4 361.37,315.8 361.40,316.0 361.47,314.1 361.57,300.0 361.67,266.5 361.76,258.5 361.86,258.4 361.96,258.3 362.06,258.2 362.15,258.1 362.25,258.1 362.35,258.0 362.45,257.9 362.55,257.8 362.64,257.7 362.74,218.1 362.84,199.3 362.94,193.8 363.00,193.4 363.03,193.4 363.13,195.8 363.23,206.1 363.33,230.6 363.43,241.4 363.52,241.3 363.62,241.3 363.72,241.3 363.82,241.2 363.91,241.2 364.01,241.2 364.11,241.1 364.21,241.1 364.31,241.1 364.40,287.1 364.50,312.4 364.60,317.6 364.60,317.6 364.70,313.2 364.79,293.6 364.89,255.8 364.99,255.7 365.09,255.6 365.19,255.5 365.28,255.4 365.38,255.3 365.48,255.3 365.58,255.2 365.68,255.1 365.77,255.0 365.87,241.4 365.97,208.3 366.07,193.9 366.16,190.6 366.20,190.5 366.26,190.8 366.36,195.0 366.46,209.1 366.56,239.8 366.65,240.3 366.75,240.2 366.85,240.2 366.95,240.2 367.04,240.1 367.14,240.1 367.24,240.1 367.34,240.0 367.44,240.0 367.53,252.9 367.63,298.3 367.73,316.9 367.80,319.2 367.83,319.0 367.92,310.8 368.02,284.3 368.12,253.0 368.22,252.9 368.32,252.8 368.41,252.7 368.51,252.6 368.61,252.6 368.71,252.5 368.80,252.4 368.90,252.3 369.00,252.2 369.10,227.0 369.20,199.9 369.29,189.4 369.39,187.7 369.40,187.7 369.49,188.5 369.59,195.1 369.68,213.9 369.78,239.2 369.88,239.2 369.98,239.2 370.08,239.1 370.17,239.1 370.27,239.1 370.37,239.0 370.47,239.0 370.56,239.0 370.66,238.9 370.76,269.7 370.86,307.4 370.96,320.2 371.00,320.9 371.05,319.8 371.15,306.7 371.25,272.3 371.35,250.2 371.45,250.1 371.54,250.0 371.64,249.9 371.74,249.8 371.84,249.8 371.93,249.7 372.03,249.6 372.13,249.5 372.23,249.4 372.33,214.5 372.42,192.8 372.52,185.6 372.60,184.9 372.62,184.9 372.72,186.7 372.81,196.3 372.91,220.6 373.01,238.1 373.11,238.1 373.21,238.1 373.30,238.0 373.40,238.0 373.50,238.0 373.60,237.9 373.69,237.9 373.79,237.9 373.89,237.8 373.99,284.6 374.09,314.8 374.18,322.8 374.20,322.8 374.28,319.7 374.38,300.6 374.48,257.0 374.57,247.4 374.67,247.3 374.77,247.2 374.87,247.1 374.97,247.1 375.06,247.0 375.16,246.9 375.26,246.8 375.36,246.7 375.45,240.6 375.55,203.7 375.65,186.8 375.75,182.3 375.80,182.0 375.85,182.1 375.94,185.6 376.04,199.1 376.14,229.6 376.24,237.1 376.34,237.0 376.43,237.0 376.53,237.0 376.63,236.9 376.73,236.9 376.82,236.9 376.92,236.8 377.02,236.8 377.12,245.6 377.22,297.4 377.31,320.7 377.40,324.7 377.41,324.7 377.51,318.0 377.61,292.0 377.70,244.7 377.80,244.6 377.90,244.5 378.00,244.4 378.10,244.3 378.19,244.3 378.29,244.2 378.39,244.1 378.49,244.0 378.58,243.9 378.68,225.0 378.78,194.5 378.88,181.8 378.98,179.2 379.00,179.2 379.07,179.7 379.17,185.5 379.27,203.9 379.37,236.0 379.46,236.0 379.56,235.9 379.66,235.9 379.76,235.9 379.86,235.8 379.95,235.8 380.05,235.8 380.15,235.7 380.25,235.6 380.34,269.2 380.44,310.7 380.54,325.7 380.59,326.8 380.64,325.9 380.74,312.4 380.83,275.1 380.93,241.9 381.03,241.8 381.13,241.8 381.23,241.7 381.32,241.6 381.42,241.5 381.52,241.4 381.62,241.4 381.71,241.3 381.81,241.2 381.91,205.5 382.01,183.8 382.11,176.6 382.18,175.9 382.20,175.9 382.30,178.1 382.40,189.0 382.50,216.3 382.59,233.6 382.69,233.6 382.79,233.5 382.89,233.4 382.99,233.3 383.08,233.2 383.18,233.2 383.28,233.1 383.38,233.0 383.47,233.1 383.57,293.3 383.67,322.3 383.77,328.9 383.77,328.9 383.87,324.0 383.96,299.7 384.06,246.7 384.16,239.2 384.26,239.2 384.35,239.1 384.45,239.0 384.55,238.9 384.65,238.8 384.75,238.7 384.84,238.7 384.94,238.6 385.04,223.1 385.14,190.0 385.24,175.9 385.33,172.7 385.36,172.7 385.43,173.0 385.53,178.5 385.63,196.3 385.72,231.0 385.82,231.0 385.92,230.9 386.02,230.8 386.12,230.7 386.21,230.6 386.31,230.6 386.41,230.5 386.51,230.4 386.60,230.3 386.70,266.0 386.80,311.9 386.90,329.3 386.95,330.9 387.00,330.3 387.09,317.3 387.19,279.7 387.29,236.6 387.39,236.5 387.48,236.5 387.58,236.4 387.68,236.3 387.78,236.2 387.88,236.1 387.97,236.1 388.07,236.0 388.17,235.9 388.27,201.8 388.36,178.3 388.46,170.3 388.55,169.4 388.56,169.4 388.66,171.2 388.76,181.6 388.85,208.1 388.95,228.4 389.05,228.3 389.15,228.2 389.24,228.1 389.34,228.0 389.44,228.0 389.54,227.9 389.64,227.8 389.73,227.7 389.83,227.6 389.93,292.5 390.03,324.9 390.12,332.9 390.14,333.0 390.22,328.7 390.32,304.8 390.42,251.2 390.52,234.0 390.61,233.9 390.71,233.9 390.81,233.8 390.91,233.7 391.01,233.6 391.10,233.6 391.20,233.5 391.30,233.4 391.40,220.9 391.49,185.4 391.59,169.9 391.69,166.3 391.73,166.2 391.79,166.4 391.89,171.4 391.98,188.5 392.08,225.5 392.18,225.8 392.28,225.7 392.37,225.7 392.47,225.6 392.57,225.5 392.67,225.4 392.77,225.4 392.86,225.3 392.96,225.2 393.06,262.6 393.16,312.8 393.25,332.7 393.32,334.8 393.35,334.4 393.45,322.2 393.55,284.8 393.65,231.6 393.74,231.5 393.84,231.4 393.94,231.4 394.04,231.3 394.13,231.2 394.23,231.1 394.33,231.1 394.43,231.0 394.53,230.9 394.62,198.4 394.72,173.1 394.82,164.0 394.91,162.9 394.92,162.9 395.01,164.5 395.11,174.2 395.21,200.1 395.31,223.4 395.41,223.3 395.50,223.3 395.60,223.2 395.70,223.1 395.80,223.0 395.90,223.0 395.99,222.9 396.09,222.8 396.19,222.7 396.29,291.1 396.38,326.5 396.48,336.1 396.50,336.2 396.58,332.5 396.68,309.5 396.78,256.3 396.87,229.1 396.97,229.0 397.07,228.9 397.17,228.8 397.26,228.8 397.36,228.7 397.46,228.6 397.56,228.5 397.66,228.5 397.75,219.0 397.85,181.1 397.95,164.2 398.05,159.9 398.09,159.8 398.14,159.9 398.24,164.5 398.34,180.9 398.44,217.2 398.54,220.9 398.63,220.9 398.73,220.8 398.83,220.7 398.93,220.6 399.02,220.6 399.12,220.5 399.22,220.4 399.32,220.3 399.42,258.8 399.51,312.6 399.61,334.7 399.68,337.5 399.71,337.3 399.81,326.1 399.90,289.6 400.00,226.5 400.10,226.4 400.20,226.3 400.30,226.2 400.39,226.1 400.49,226.1 400.59,226.0 400.69,225.9 400.79,225.8 400.88,225.7 400.98,195.3 401.08,168.1 401.18,158.1 401.27,156.7 401.27,156.7 401.37,158.0 401.47,167.2 401.57,192.2 401.67,218.6 401.76,218.6 401.86,218.5 401.96,218.4 402.06,218.4 402.15,218.3 402.25,218.2 402.35,218.2 402.45,218.1 402.55,218.0 402.64,289.1 402.74,327.4 402.84,338.5 402.86,338.7 402.94,335.7 403.03,313.7 403.13,261.4 403.23,223.7 403.33,223.6 403.43,223.5 403.52,223.5 403.62,223.4 403.72,223.3 403.82,223.2 403.91,223.1 404.01,223.0 404.11,217.1 404.21,177.0 404.31,158.7 404.40,153.8 404.45,153.5 404.50,153.7 404.60,157.8 404.70,173.6 404.80,209.2 404.89,216.4 404.99,216.3 405.09,216.2 405.19,216.2 405.28,216.1 405.38,216.0 405.48,216.0 405.58,215.9 405.68,215.8 405.77,254.7 405.87,311.4 405.97,335.6 406.05,339.1 406.07,339.0 406.16,329.0 406.26,293.9 406.36,224.2 406.46,221.0 406.56,221.0 406.65,220.9 406.75,220.8 406.85,220.7 406.95,220.6 407.04,220.6 407.14,220.5 407.24,220.4 407.34,192.3 407.44,163.3 407.53,152.2 407.63,150.4 407.64,150.4 407.73,151.5 407.83,160.2 407.92,184.6 408.02,214.2 408.12,214.1 408.22,214.0 408.32,214.0 408.41,213.9 408.51,213.8 408.61,213.8 408.71,213.7 408.80,213.6 408.90,213.6 409.00,286.2 409.10,326.6 409.20,339.2 409.23,339.6 409.29,337.2 409.39,316.7 409.49,266.3 409.59,218.5 409.69,218.5 409.78,218.4 409.88,218.3 409.98,218.2 410.08,218.1 410.17,218.1 410.27,218.0 410.37,217.9 410.47,215.7 410.57,173.1 410.66,153.3 410.76,147.7 410.82,147.3 410.86,147.4 410.96,151.1 411.05,166.3 411.15,201.3 411.25,212.0 411.35,211.9 411.45,211.8 411.54,211.8 411.64,211.7 411.74,211.6 411.84,211.6 411.93,211.5 412.03,211.4 412.13,250.4 412.23,309.6 412.33,335.7 412.41,340.1 412.42,340.0 412.52,331.2 412.62,298.0 412.72,230.7 412.81,216.6 412.91,216.5 413.01,216.5 413.11,216.4 413.21,216.4 413.30,216.3 413.40,216.3 413.50,216.2 413.60,216.2 413.69,190.2 413.79,158.8 413.89,146.4 413.99,144.2 414.00,144.2 414.09,145.1 414.18,153.1 414.28,176.4 414.38,209.8 414.48,209.8 414.57,209.7 414.67,209.6 414.77,209.6 414.87,209.5 414.97,209.4 415.06,209.4 415.16,209.3 415.26,209.2 415.36,277.6 415.46,322.3 415.55,338.2 415.60,339.1 415.65,337.9 415.75,321.8 415.85,278.2 415.94,215.1 416.04,215.0 416.14,215.0 416.24,215.0 416.34,214.9 416.43,214.9 416.53,214.8 416.63,214.8 416.73,214.7 416.82,214.7 416.92,176.1 417.02,150.7 417.12,142.1 417.20,141.2 417.22,141.1 417.31,143.3 417.41,155.0 417.51,184.9 417.61,207.6 417.70,207.6 417.80,207.5 417.90,207.4 418.00,207.4 418.10,207.3 418.19,207.2 418.29,207.2 418.39,207.1 418.49,227.9 418.58,296.0 418.68,329.5 418.78,338.0 418.79,338.1 418.88,333.7 418.98,309.3 419.07,254.5 419.17,213.6 419.27,213.5 419.37,213.5 419.46,213.4 419.56,213.4 419.66,213.4 419.76,213.3 419.86,213.3 419.95,213.2 420.05,201.2 420.15,160.6 420.25,142.7 420.35,138.3 420.39,138.1 420.44,138.4 420.54,143.6 420.64,162.2 420.74,202.7 420.83,205.7 420.93,205.6 421.03,205.6 421.13,205.5 421.23,205.5 421.32,205.5 421.42,205.4 421.52,205.4 421.62,205.3 421.71,260.3 421.81,312.8 421.91,334.3 421.98,337.0 422.01,336.7 422.11,325.7 422.20,290.0 422.30,220.7 422.40,212.8 422.50,212.8 422.59,212.8 422.69,212.8 422.79,212.8 422.89,212.8 422.99,212.8 423.08,212.7 423.18,212.7 423.28,179.5 423.38,148.7 423.47,137.2 423.57,135.5 423.57,135.5 423.67,136.8 423.77,146.8 423.87,174.0 423.96,204.4 424.06,204.3 424.16,204.3 424.26,204.3 424.36,204.2 424.45,204.2 424.55,204.1 424.65,204.1 424.75,204.1 424.84,210.9 424.94,284.7 425.04,323.1 425.14,334.6 425.17,334.9 425.24,332.4 425.33,312.5 425.43,264.4 425.53,212.4 425.63,212.4 425.72,212.3 425.82,212.3 425.92,212.3 426.02,212.3 426.12,212.3 426.21,212.3 426.31,212.3 426.41,209.7 426.51,161.8 426.60,139.5 426.70,133.2 426.76,132.8 426.80,132.9 426.90,136.9 427.00,153.2 427.09,191.0 427.19,203.1 427.29,203.0 427.39,203.0 427.48,202.9 427.58,202.9 427.68,202.9 427.78,202.8 427.88,202.8 427.97,202.7 428.07,244.8 428.17,302.5 428.27,328.3 428.35,332.7 428.36,332.6 428.46,324.8 428.56,294.8 428.66,233.3 428.76,211.9 428.85,211.9 428.95,211.9 429.05,211.8 429.15,211.8 429.25,211.8 429.34,211.8 429.44,211.8 429.54,211.8 429.64,184.8 429.73,147.8 429.83,132.9 429.93,130.2 429.95,130.2 430.03,131.0 430.13,139.2 430.22,163.8 430.32,201.8 430.42,201.7 430.52,201.7 430.61,201.6 430.71,201.6 430.81,201.6 430.91,201.5 431.01,201.5 431.10,201.4 431.20,201.4 431.30,271.4 431.40,314.5 431.49,329.5 431.54,330.4 431.59,329.1 431.69,313.5 431.79,272.0 431.89,211.4 431.98,211.4 432.08,211.4 432.18,211.4 432.28,211.4 432.37,211.3 432.47,211.3 432.57,211.3 432.67,211.3 432.77,211.3 432.86,164.4 432.96,137.1 433.06,128.4 433.13,127.6 433.16,127.6 433.25,130.5 433.35,144.7 433.45,179.4 433.55,200.4 433.65,200.4 433.74,200.4 433.84,200.3 433.94,200.3 434.04,200.2 434.13,200.2 434.23,200.2 434.33,200.1 434.43,228.4 434.53,291.2 434.62,321.3 434.72,328.0 434.73,328.0 434.82,322.8 434.92,298.0 435.02,244.0 435.11,210.9 435.21,210.9 435.31,210.9 435.41,210.9 435.50,210.9 435.60,210.9 435.70,210.8 435.80,210.8 435.90,210.8 435.99,192.0 436.09,148.2 436.19,129.4 436.29,125.1 436.32,125.1 436.38,125.5 436.48,132.1 436.58,154.0 436.68,199.2 436.78,199.1 436.87,199.1 436.97,199.0 437.07,199.0 437.17,199.0 437.26,198.9 437.36,198.9 437.46,198.8 437.56,198.8 437.66,257.3 437.75,305.1 437.85,323.8 437.91,325.6 437.95,325.1 438.05,313.2 438.14,277.9 438.24,210.8 438.34,210.4 438.44,210.4 438.54,210.4 438.63,210.4 438.73,210.4 438.83,210.4 438.93,210.4 439.02,210.3 439.12,210.3 439.22,168.5 439.32,135.7 439.42,124.0 439.51,122.5 439.51,122.5 439.61,124.5 439.71,136.5 439.81,168.2 439.91,197.8 440.00,197.8 440.10,197.8 440.20,197.8 440.30,197.8 440.39,197.8 440.49,197.8 440.59,197.7 440.69,197.7 440.79,211.6 440.88,279.3 440.98,313.7 441.08,323.1 441.10,323.2 441.18,320.1 441.27,299.9 441.37,253.1 441.47,210.1 441.57,210.1 441.67,210.1 441.76,210.1 441.86,210.1 441.96,210.1 442.06,210.1 442.15,210.1 442.25,210.1 442.35,201.4 442.45,150.2 442.55,126.9 442.64,120.8 442.69,120.5 442.74,120.7 442.84,125.9 442.94,145.3 443.03,189.0 443.13,197.5 443.23,197.5 443.33,197.5 443.43,197.5 443.52,197.4 443.62,197.4 443.72,197.4 443.82,197.4 443.92,197.4 444.01,243.3 444.11,295.4 444.21,317.6 444.29,320.8 444.31,320.7 444.40,312.2 444.50,282.6 444.60,223.5 444.70,210.0 444.80,210.0 444.89,210.0 444.99,210.0 445.09,209.9 445.19,209.9 445.28,209.9 445.38,209.9 445.48,209.9 445.58,175.1 445.68,136.1 445.77,121.0 445.87,118.5 445.88,118.5 445.97,119.7 446.07,129.9 446.16,158.9 446.26,197.2 446.36,197.2 446.46,197.2 446.56,197.1 446.65,197.1 446.75,197.1 446.85,197.1 446.95,197.1 447.04,197.1 447.14,197.1 447.24,267.5 447.34,305.7 447.44,318.0 447.47,318.4 447.53,316.8 447.63,300.8 447.73,260.7 447.83,209.8 447.92,209.8 448.02,209.8 448.12,209.8 448.22,209.8 448.32,209.8 448.41,209.8 448.51,209.8 448.61,209.8 448.71,209.8 448.81,154.0 448.90,125.7 449.00,117.1 449.07,116.5 449.10,116.6 449.20,120.5 449.29,137.5 449.39,178.2 449.49,196.9 449.59,196.8 449.69,196.8 449.78,196.8 449.88,196.8 449.98,196.8 450.08,196.8 450.17,196.8 450.27,196.8 450.37,229.4 450.47,285.2 450.57,311.0 450.66,316.1 450.66,316.1 450.76,310.3 450.86,285.9 450.96,234.3 451.05,209.6 451.15,209.6 451.25,209.6 451.35,209.6 451.45,209.6 451.54,209.6 451.64,209.6 451.74,209.6 451.84,209.6 451.93,183.4 452.03,137.7 452.13,118.7 452.23,114.8 452.25,114.8 452.33,115.5 452.42,123.8 452.52,149.9 452.62,196.5 452.72,196.5 452.81,196.5 452.91,196.5 453.01,196.5 453.11,196.5 453.21,196.5 453.30,196.5 453.40,196.5 453.50,196.5 453.60,255.4 453.69,297.2 453.79,312.5 453.85,313.7 453.89,312.9 453.99,300.7 454.09,266.7 454.18,209.5 454.28,209.5 454.38,209.5 454.48,209.5 454.58,209.5 454.67,209.5 454.77,209.5 454.87,209.5 454.97,209.5 455.06,209.4 455.16,159.4 455.26,125.6 455.36,114.2 455.44,113.0 455.46,113.0 455.55,115.7 455.65,130.4 455.75,167.7 455.85,196.2 455.94,196.2 456.04,196.2 456.14,196.2 456.24,196.2 456.34,196.2 456.43,196.2 456.53,196.1 456.63,196.1 456.73,215.3 456.82,274.6 456.92,304.0 457.02,311.3 457.03,311.3 457.12,307.7 457.22,287.8 457.31,243.3 457.41,209.3 457.51,209.3 457.61,209.3 457.70,209.3 457.80,209.3 457.90,209.3 458.00,209.3 458.10,209.3 458.19,209.3 458.29,193.7 458.39,140.6 458.49,117.1 458.58,111.4 458.63,111.2 458.68,111.6 458.78,118.2 458.88,141.3 458.98,192.0 459.07,195.9 459.17,195.9 459.27,195.9 459.37,195.9 459.47,195.9 459.56,195.8 459.66,195.8 459.76,195.8 459.86,195.8 459.95,243.0 460.05,288.2 460.15,306.7 460.22,308.9 460.25,308.6 460.35,299.7 460.44,271.2 460.54,215.6 460.64,209.1 460.74,209.1 460.83,209.1 460.93,209.1 461.03,209.1 461.13,209.1 461.23,209.1 461.32,209.1 461.42,209.1 461.52,166.4 461.62,126.7 461.71,111.9 461.81,109.8 461.81,109.8 461.91,111.6 462.01,123.9 462.11,157.7 462.20,195.6 462.30,195.6 462.40,195.6 462.50,195.6 462.59,195.5 462.69,195.5 462.79,195.5 462.89,195.5 462.99,195.5 463.08,201.1 463.18,263.8 463.28,296.4 463.38,306.2 463.41,306.4 463.47,304.3 463.57,288.5 463.67,250.3 463.77,208.8 463.87,208.8 463.96,208.8 464.06,208.8 464.16,208.8 464.26,208.8 464.36,208.8 464.45,208.8 464.55,208.7 464.65,205.7 464.75,145.0 464.84,116.8 464.94,108.8 465.00,108.3 465.04,108.5 465.14,113.4 465.24,133.3 465.33,179.3 465.43,195.3 465.53,195.2 465.63,195.2 465.72,195.2 465.82,195.2 465.92,195.2 466.02,195.2 466.12,195.2 466.21,195.2 466.31,226.7 466.41,276.6 466.51,299.5 466.60,303.9 466.60,303.9 466.70,298.6 466.80,276.6 466.90,230.5 467.00,208.5 467.09,208.5 467.19,208.5 467.29,208.5 467.39,208.5 467.48,208.5 467.58,208.4 467.68,208.4 467.78,208.4 467.88,183.1 467.97,132.9 468.07,111.6 468.17,107.0 468.20,106.9 468.27,107.5 468.37,115.8 468.46,142.7 468.56,194.9 468.66,194.9 468.76,194.9 468.85,194.9 468.95,194.9 469.05,194.9 469.15,194.9 469.25,194.9 469.34,194.9 469.44,194.9 469.54,246.6 469.64,285.6 469.73,300.2 469.79,301.4 469.83,300.8 469.93,290.3 470.03,260.6 470.13,208.2 470.22,208.2 470.32,208.2 470.42,208.2 470.52,208.1 470.61,208.1 470.71,208.1 470.81,208.1 470.91,208.1 471.01,208.1 471.10,152.8 471.20,118.5 471.30,106.8 471.38,105.6 471.40,105.6 471.49,108.3 471.59,122.7 471.69,158.8 471.79,194.6 471.89,194.6 471.98,194.6 472.08,194.6 472.18,194.6 472.28,194.6 472.37,194.6 472.47,194.6 472.57,194.5 472.67,212.5 472.77,266.1 472.86,292.5 472.96,298.9 472.97,298.9 473.06,295.5 473.16,277.5 473.25,237.3 473.35,207.9 473.45,207.9 473.55,207.8 473.65,207.8 473.74,207.8 473.84,207.8 473.94,207.8 474.04,207.8 474.14,207.8 474.23,172.1 474.33,128.6 474.43,109.1 474.53,104.3 474.56,104.2 474.62,104.6 474.72,110.8 474.82,130.8 474.92,172.6 475.02,194.3 475.11,194.3 475.21,194.3 475.31,194.3 475.41,194.3 475.50,194.2 475.60,194.2 475.70,194.2 475.80,194.2 475.90,239.7 475.99,279.2 476.09,294.8 476.16,296.4 476.19,296.0 476.29,287.2 476.38,260.5 476.48,209.4 476.58,207.5 476.68,207.5 476.78,207.5 476.87,207.5 476.97,207.5 477.07,207.5 477.17,207.5 477.26,207.5 477.36,193.4 477.46,141.7 477.56,114.6 477.66,104.4 477.75,103.0 477.75,103.0 477.85,104.8 477.95,115.0 478.05,140.4 478.14,186.8 478.24,194.0 478.34,194.0 478.44,194.0 478.54,193.9 478.63,193.9 478.73,193.9 478.83,193.9 478.93,193.9 479.03,205.8 479.12,259.4 479.22,286.5 479.32,293.8 479.34,293.8 479.42,291.3 479.51,275.5 479.61,239.1 479.71,207.2 479.81,207.2 479.91,207.2 480.00,207.2 480.10,207.2 480.20,207.2 480.30,207.2 480.39,207.1 480.49,207.1 480.59,157.2 480.69,122.9 480.79,106.6 480.88,102.0 480.93,101.8 480.98,102.0 481.08,106.5 481.18,121.0 481.27,150.9 481.37,193.7 481.47,193.7 481.57,193.6 481.67,193.6 481.76,193.6 481.86,193.6 481.96,193.6 482.06,193.6 482.15,193.6 482.25,230.0 482.35,271.8 482.45,289.1 482.52,291.3 482.55,291.1 482.64,283.3 482.74,258.1 482.84,208.3 482.94,206.8 483.03,206.7 483.13,206.7 483.23,206.7 483.33,206.7 483.43,206.7 483.52,206.7 483.62,206.7 483.72,174.2 483.82,133.7 483.92,111.3 484.01,102.1 484.11,100.5 484.11,100.5 484.21,101.9 484.31,109.5 484.40,128.3 484.50,162.1 484.60,193.3 484.70,193.3 484.80,193.3 484.89,193.3 484.99,193.3 485.09,193.3 485.19,193.3 485.28,193.3 485.38,193.3 485.48,248.2 485.58,279.5 485.68,288.6 485.70,288.7 485.77,286.6 485.87,270.9 485.97,233.5 486.07,206.3 486.16,206.3 486.26,206.3 486.36,206.2 486.46,206.2 486.56,206.2 486.65,206.2 486.75,206.2 486.85,192.2 486.95,146.5 487.04,118.5 487.14,104.3 487.24,99.7 487.29,99.4 487.34,99.6 487.44,103.0 487.53,114.1 487.63,136.6 487.73,173.5 487.83,193.0 487.93,193.0 488.02,193.0 488.12,193.0 488.22,193.0 488.32,193.0 488.41,193.0 488.51,192.9 488.61,213.8 488.71,262.2 488.81,283.1 488.89,286.2 488.90,286.1 489.00,278.7 489.10,252.8 489.20,205.8 489.29,205.8 489.39,205.8 489.49,205.8 489.59,205.8 489.69,205.7 489.78,205.7 489.88,205.7 489.98,205.7 490.08,160.6 490.17,127.7 490.27,108.7 490.37,100.1 490.47,98.3 490.48,98.3 490.57,99.3 490.66,105.4 490.76,119.9 490.86,145.6 490.96,184.9 491.05,192.7 491.15,192.7 491.25,192.7 491.35,192.7 491.45,192.7 491.54,192.6 491.64,192.6 491.74,192.6 491.84,234.9 491.93,271.7 492.03,283.3 492.07,283.6 492.13,281.9 492.23,266.1 492.33,227.2 492.42,205.3 492.52,205.3 492.62,205.3 492.72,205.3 492.81,205.3 492.91,205.3 493.01,205.2 493.11,205.2 493.21,175.7 493.30,138.5 493.40,114.9 493.50,102.2 493.60,97.7 493.66,97.2 493.70,97.3 493.79,100.1 493.89,108.9 493.99,126.6 494.09,155.0 494.18,192.4 494.28,192.4 494.38,192.4 494.48,192.4 494.58,192.3 494.67,192.3 494.77,192.3 494.87,192.3 494.97,195.1 495.06,251.4 495.16,276.7 495.25,281.1 495.26,281.1 495.36,274.1 495.46,247.5 495.55,204.9 495.65,204.9 495.75,204.8 495.85,204.8 495.94,204.8 496.04,204.8 496.14,204.8 496.24,204.8 496.34,191.1 496.43,150.6 496.53,123.0 496.63,106.3 496.73,98.3 496.82,96.3 496.84,96.2 496.92,97.0 497.02,102.0 497.12,113.6 497.22,134.0 497.31,164.6 497.41,192.1 497.51,192.0 497.61,192.0 497.70,192.0 497.80,192.0 497.90,192.0 498.00,192.0 498.10,192.0 498.19,219.7 498.29,263.2 498.39,277.8 498.43,278.6 498.49,277.1 498.59,261.4 498.68,220.6 498.78,204.4 498.88,204.4 498.98,204.4 499.07,204.3 499.17,204.3 499.27,204.3 499.37,204.3 499.47,204.3 499.56,163.5 499.66,132.5 499.76,112.1 499.86,100.5 499.95,95.8 500.02,95.2 500.05,95.3 500.15,97.5 500.25,104.9 500.35,119.2 500.44,142.0 500.54,174.2 500.64,191.8 500.74,191.8 500.83,191.8 500.93,191.8 501.03,191.9 501.13,191.9 501.23,191.9 501.32,191.9 501.42,239.3 501.52,270.0 501.61,276.0 501.62,276.0 501.71,269.6 501.81,242.1 501.91,203.9 502.01,203.9 502.11,203.9 502.20,203.9 502.30,203.9 502.40,203.9 502.50,203.9 502.59,203.9 502.69,176.8 502.79,143.1 502.89,119.3 502.99,104.3 503.08,96.6 503.18,94.3 503.21,94.2 503.28,94.8 503.38,99.1 503.48,108.9 503.57,125.7 503.67,150.4 503.77,184.0 503.87,192.0 503.96,192.0 504.06,192.0 504.16,192.0 504.26,192.0 504.36,192.0 504.45,192.0 504.55,202.6 504.65,254.0 504.75,272.3 504.80,273.6 504.84,272.5 504.94,256.7 505.04,213.7 505.14,203.5 505.24,203.5 505.33,203.5 505.43,203.5 505.53,203.5 505.63,203.4 505.72,203.4 505.82,190.2 505.92,154.4 506.02,127.8 506.12,109.7 506.21,98.9 506.31,94.1 506.39,93.3 506.41,93.3 506.51,95.3 506.60,101.6 506.70,113.8 506.80,132.7 506.90,159.1 507.00,192.1 507.09,192.2 507.19,192.2 507.29,192.2 507.39,192.2 507.49,192.2 507.58,192.2 507.68,192.2 507.78,225.9 507.88,262.9 507.97,271.1 507.98,271.1 508.07,265.1 508.17,236.6 508.27,203.1 508.37,203.1 508.46,203.1 508.56,203.1 508.66,203.0 508.76,203.0 508.85,203.0 508.95,203.0 509.05,166.0 509.15,137.3 509.25,116.4 509.34,102.7 509.44,95.1 509.54,92.5 509.57,92.4 509.64,92.9 509.73,96.6 509.83,105.1 509.93,119.4 510.03,140.1 510.13,167.7 510.22,192.3 510.32,192.3 510.42,192.3 510.52,192.3 510.61,192.3 510.71,192.3 510.81,192.3 510.91,192.3 511.01,243.6 511.10,266.6 511.16,268.6 511.20,267.8 511.30,252.0 511.40,206.5 511.49,202.7 511.59,202.7 511.69,202.6 511.79,202.6 511.89,202.6 511.98,202.6 512.08,202.6 512.18,177.8 512.28,147.3 512.38,124.1 512.47,107.8 512.57,97.5 512.67,92.5 512.75,91.4 512.77,91.5 512.86,93.2 512.96,98.8 513.06,109.5 513.16,125.6 513.26,147.8 513.35,176.2 513.45,192.5 513.55,192.5 513.65,192.5 513.74,192.5 513.84,192.5 513.94,192.5 514.04,192.5 514.14,210.4 514.23,255.0 514.33,266.1 514.34,266.1 514.43,260.7 514.53,230.8 514.62,202.3 514.72,202.2 514.82,202.2 514.92,202.2 515.02,202.2 515.11,202.2 515.21,202.2 515.31,189.5 515.41,157.7 515.50,132.8 515.60,114.1 515.70,101.4 515.80,93.8 515.90,90.9 515.94,90.7 515.99,91.1 516.09,94.5 516.19,102.1 516.29,114.6 516.38,132.3 516.48,155.5 516.58,184.5 516.68,192.6 516.78,192.6 516.87,192.6 516.97,192.6 517.07,192.7 517.17,192.7 517.26,192.7 517.36,231.7 517.46,260.5 517.53,263.6 517.56,263.1 517.66,247.2 517.75,201.8 517.85,201.8 517.95,201.8 518.05,201.8 518.15,201.8 518.24,201.8 518.34,201.8 518.44,200.8 518.54,168.1 518.63,141.5 518.73,120.9 518.83,105.8 518.93,95.8 519.03,90.5 519.12,89.2 519.12,89.2 519.22,90.7 519.32,95.9 519.42,105.4 519.51,119.6 519.61,138.8 519.71,163.0 519.81,192.5 519.91,192.8 520.00,192.8 520.10,192.8 520.20,192.8 520.30,192.9 520.39,192.9 520.49,192.9 520.59,246.2 520.69,261.0 520.71,261.2 520.79,256.3 520.88,224.9 520.98,201.4 521.08,201.4 521.18,201.4 521.27,201.4 521.37,201.4 521.47,201.3 521.57,201.3 521.67,178.3 521.76,150.5 521.86,128.1 521.96,110.8 522.06,98.6 522.15,90.9 522.25,87.5 522.30,87.1 522.35,87.5 522.45,90.8 522.55,98.2 522.64,110.0 522.74,126.4 522.84,147.6 522.94,173.6 523.04,193.4 523.13,193.5 523.23,193.5 523.33,193.5 523.43,193.5 523.52,193.5 523.62,193.6 523.72,230.3 523.82,257.1 523.87,258.9 523.92,257.2 524.01,232.6 524.11,201.0 524.21,201.0 524.31,201.0 524.40,200.9 524.50,200.9 524.60,200.9 524.70,200.9 524.80,176.4 524.89,149.2 524.99,127.1 525.09,109.9 525.19,97.4 525.28,89.3 525.38,85.6 525.43,85.1 525.48,85.4 525.58,88.7 525.68,95.9 525.77,107.4 525.87,123.1 525.97,143.2 526.07,167.8 526.16,194.1 526.26,194.1 526.36,194.1 526.46,194.1 526.56,194.2 526.65,194.2 526.75,194.2 526.85,225.8 526.95,254.5 527.00,256.7 527.05,255.2 527.14,231.6 527.24,200.6 527.34,200.6 527.44,200.5 527.53,200.5 527.63,200.5 527.73,200.5 527.83,200.5 527.93,171.9 528.02,146.1 528.12,124.8 528.22,108.1 528.32,95.7 528.41,87.6 528.51,83.5 528.57,82.9 528.61,83.2 528.71,86.5 528.81,93.6 528.90,104.7 529.00,119.9 529.10,139.2 529.20,162.5 529.29,189.9 529.39,194.8 529.49,194.8 529.59,194.8 529.69,194.8 529.78,194.8 529.88,194.9 529.98,222.4 530.08,251.9 530.13,254.4 530.17,253.2 530.27,231.3 530.37,200.2 530.47,200.2 530.57,200.3 530.66,200.3 530.76,200.3 530.86,200.3 530.96,196.7 531.05,167.7 531.15,143.0 531.25,122.5 531.35,106.0 531.45,93.7 531.54,85.3 531.64,80.9 531.70,80.2 531.74,80.5 531.84,83.8 531.93,90.9 532.03,101.8 532.13,116.5 532.23,135.1 532.33,157.4 532.42,183.5 532.52,195.4 532.62,195.4 532.72,195.4 532.82,195.5 532.91,195.5 533.01,195.5 533.11,219.1 533.21,249.3 533.27,252.1 533.30,251.3 533.40,231.1 533.50,200.5 533.60,200.6 533.70,200.6 533.79,200.6 533.89,200.6 533.99,200.6 534.09,191.9 534.18,164.2 534.28,140.3 534.38,120.2 534.48,104.0 534.58,91.5 534.67,82.9 534.77,78.2 534.83,77.3 534.87,77.5 534.97,80.9 535.06,88.0 535.16,98.8 535.26,113.2 535.36,131.2 535.46,152.7 535.55,177.6 535.65,196.1 535.75,196.1 535.85,196.1 535.94,196.1 536.04,196.1 536.14,196.2 536.24,215.9 536.34,246.7 536.40,249.9 536.43,249.2 536.53,230.8 536.63,200.9 536.73,200.9 536.83,200.9 536.92,200.9 537.02,200.9 537.12,200.9 537.22,187.4 537.31,160.7 537.41,137.6 537.51,117.9 537.61,101.7 537.71,89.2 537.80,80.3 537.90,75.2 537.97,74.0 538.00,74.3 538.10,77.7 538.19,84.9 538.29,95.6 538.39,109.8 538.49,127.3 538.59,148.1 538.68,172.0 538.78,196.7 538.88,196.7 538.98,196.7 539.07,196.8 539.17,196.8 539.27,196.8 539.37,212.9 539.47,244.0 539.53,247.6 539.56,247.1 539.66,230.5 539.76,201.2 539.86,201.2 539.95,201.2 540.05,201.2 540.15,201.2 540.25,201.2 540.35,183.2 540.44,157.4 540.54,134.8 540.64,115.4 540.74,99.3 540.83,86.6 540.93,77.3 541.03,71.8 541.10,70.4 541.13,70.6 541.23,74.0 541.32,81.0 541.42,91.4 541.52,104.9 541.62,121.4 541.71,140.8 541.81,163.0 541.91,188.0 542.01,197.4 542.11,197.4 542.20,197.4 542.30,197.4 542.40,197.5 542.50,197.5 542.60,235.8 542.69,245.8 542.70,245.8 542.79,239.0 542.89,204.6 542.99,201.5 543.08,201.5 543.18,201.5 543.28,201.5 543.38,201.5 543.48,192.9 543.57,167.1 543.67,144.1 543.77,123.8 543.87,106.5 543.96,92.0 544.06,80.6 544.16,72.5 544.26,68.0 544.30,67.4 544.36,68.3 544.45,73.0 544.55,81.2 544.65,92.6 544.75,106.8 544.84,123.8 544.94,143.5 545.04,165.7 545.14,190.5 545.24,198.1 545.33,198.1 545.43,198.1 545.53,198.1 545.63,198.2 545.72,208.2 545.82,239.5 545.90,244.1 545.92,243.9 546.02,231.3 546.12,201.8 546.21,201.8 546.31,201.8 546.41,201.8 546.51,201.9 546.61,201.9 546.70,183.0 546.80,158.2 546.90,136.0 547.00,116.5 547.09,99.8 547.19,86.0 547.29,75.3 547.39,67.9 547.49,64.4 547.50,64.3 547.58,66.2 547.68,72.2 547.78,81.5 547.88,94.0 547.97,109.5 548.07,127.8 548.17,148.8 548.27,172.5 548.37,198.8 548.46,199.0 548.56,199.0 548.66,199.0 548.76,199.1 548.85,199.1 548.95,219.8 549.05,240.8 549.10,242.3 549.15,241.0 549.25,221.7 549.34,202.1 549.44,202.1 549.54,202.2 549.64,202.2 549.73,202.2 549.83,202.2 549.93,175.4 550.03,150.8 550.13,128.8 550.22,109.6 550.32,93.2 550.42,79.9 550.52,69.9 550.61,63.3 550.70,61.1 550.71,61.2 550.81,64.4 550.91,71.6 551.01,82.2 551.10,95.9 551.20,112.7 551.30,132.4 551.40,154.8 551.50,180.0 551.59,199.9 551.69,199.9 551.79,199.9 551.89,199.9 551.98,200.0 552.08,200.0 552.18,227.7 552.28,240.4 552.30,240.5 552.38,236.7 552.47,210.3 552.57,202.9 552.67,202.9 552.77,202.9 552.86,202.9 552.96,203.0 553.06,195.4 553.16,168.1 553.26,143.6 553.35,121.8 553.45,102.9 553.55,86.9 553.65,74.2 553.74,64.8 553.84,59.3 553.90,58.1 553.94,58.6 554.04,63.2 554.14,71.6 554.23,83.4 554.33,98.5 554.43,116.5 554.53,137.6 554.62,161.4 554.72,188.1 554.82,200.8 554.92,200.8 555.02,200.8 555.11,200.8 555.21,200.9 555.31,201.0 555.41,232.4 555.50,238.8 555.50,238.8 555.60,230.8 555.70,203.7 555.80,203.7 555.90,203.7 555.99,203.7 556.09,203.8 556.19,203.8 556.29,187.9 556.38,160.7 556.48,136.3 556.58,114.7 556.68,96.1 556.78,80.7 556.87,68.6 556.97,60.0 557.07,55.5 557.10,55.1 557.17,56.5 557.27,62.4 557.36,72.0 557.46,85.1 557.56,101.4 557.66,120.9 557.75,143.3 557.85,168.6 557.95,196.8 558.05,201.7 558.15,201.7 558.24,201.7 558.34,201.8 558.44,201.8 558.54,211.8 558.63,234.5 558.70,237.0 558.73,236.6 558.83,223.5 558.93,204.5 559.03,204.5 559.12,204.5 559.22,204.6 559.32,204.6 559.42,204.6 559.51,180.2 559.61,153.0 559.71,128.8 559.81,107.5 559.91,89.3 560.00,74.4 560.10,62.9 560.20,55.2 560.30,51.9 560.30,51.9 560.39,54.6 560.49,61.8 560.59,72.7 560.69,87.2 560.79,104.9 560.88,125.7 560.98,149.6 561.08,176.4 561.18,202.6 561.27,202.6 561.37,202.6 561.47,202.6 561.57,202.7 561.67,202.7 561.76,220.3 561.86,234.8 561.90,235.4 561.96,233.5 562.06,214.9 562.16,205.3 562.25,205.3 562.35,205.4 562.45,205.4 562.55,205.4 562.64,202.2 562.74,172.3 562.84,145.3 562.94,121.2 563.04,100.3 563.13,82.6 563.23,68.2 563.33,57.5 563.43,50.8 563.50,48.9 563.52,49.1 563.62,53.4 563.72,61.8 563.82,74.1 563.92,89.8 564.01,108.9 564.11,131.2 564.21,156.5 564.31,184.9 564.40,203.5 564.50,203.5 564.60,203.5 564.70,203.5 564.80,203.6 564.89,203.6 564.99,225.8 565.09,233.8 565.10,233.8 565.19,229.3 565.28,206.0 565.38,206.1 565.48,206.2 565.58,206.2 565.68,206.2 565.77,206.2 565.87,194.1 565.97,164.2 566.07,137.4 566.16,113.6 566.26,93.1 566.36,75.9 566.46,62.2 566.56,52.4 566.65,46.8 566.70,45.9 566.75,46.9 566.85,52.5 566.95,62.3 567.05,75.9 567.14,93.0 567.24,113.5 567.34,137.2 567.44,164.1 567.53,194.0 567.63,204.4 567.73,204.4 567.83,204.4 567.93,204.5 568.02,204.5 568.12,205.4 568.22,228.7 568.30,232.3 568.32,232.2 568.41,224.0 568.51,206.9 568.61,207.0 568.71,207.0 568.81,207.0 568.90,207.0 569.00,207.1 569.10,185.8 569.20,156.1 569.29,129.5 569.39,106.1 569.49,86.1 569.59,69.5 569.69,56.6 569.78,47.6 569.88,43.3 569.90,43.1 569.98,45.2 570.08,52.2 570.17,63.4 570.27,78.3 570.37,96.8 570.47,118.7 570.57,143.9 570.66,172.3 570.76,203.8 570.86,205.3 570.96,205.3 571.06,205.3 571.15,205.4 571.25,205.4 571.35,214.3 571.45,229.5 571.50,230.7 571.54,230.0 571.64,217.7 571.74,207.8 571.84,207.8 571.94,207.8 572.03,207.8 572.13,207.9 572.23,207.9 572.33,177.3 572.42,147.8 572.52,121.4 572.62,98.4 572.72,78.9 572.82,62.9 572.91,50.8 573.01,42.9 573.10,40.0 573.11,40.0 573.21,42.7 573.30,48.8 573.40,58.0 573.50,70.0"/>
<g stroke="#000" stroke-width="1" fill="none"><line x1="70.0" y1="31.0" x2="70.0" y2="356.0"/><line x1="69.5" y1="355.5" x2="588.4" y2="355.5"/><line x1="84.50" y1="355.5" x2="84.50" y2="350.5"/><line x1="182.30" y1="355.5" x2="182.30" y2="350.5"/><line x1="280.10" y1="355.5" x2="280.10" y2="350.5"/><line x1="377.90" y1="355.5" x2="377.90" y2="350.5"/><line x1="475.70" y1="355.5" x2="475.70" y2="350.5"/><line x1="573.50" y1="355.5" x2="573.50" y2="350.5"/><line x1="70.0" y1="346.50" x2="75.0" y2="346.50"/><line x1="70.0" y1="281.02" x2="75.0" y2="281.02"/><line x1="70.0" y1="215.55" x2="75.0" y2="215.55"/><line x1="70.0" y1="150.08" x2="75.0" y2="150.08"/><line x1="70.0" y1="84.60" x2="75.0" y2="84.60"/></g>
<text transform="translate(84.5,371.8) scale(1.135,1)" font-size="12.0" text-anchor="middle" fill="#000">0</text><text transform="translate(182.3,371.8) scale(1.135,1)" font-size="12.0" text-anchor="middle" fill="#000">1000</text><text transform="translate(280.1,371.8) scale(1.135,1)" font-size="12.0" text-anchor="middle" fill="#000">2000</text><text transform="translate(377.9,371.8) scale(1.135,1)" font-size="12.0" text-anchor="middle" fill="#000">3000</text><text transform="translate(475.7,371.8) scale(1.135,1)" font-size="12.0" text-anchor="middle" fill="#000">4000</text><text transform="translate(573.5,371.8) scale(1.135,1)" font-size="12.0" text-anchor="middle" fill="#000">5000</text><text transform="translate(61.5,351.4) scale(1.135,1)" font-size="12.0" text-anchor="end" fill="#000">0.000</text><text transform="translate(61.5,285.92) scale(1.135,1)" font-size="12.0" text-anchor="end" fill="#000">0.025</text><text transform="translate(61.5,220.45) scale(1.135,1)" font-size="12.0" text-anchor="end" fill="#000">0.050</text><text transform="translate(61.5,154.98) scale(1.135,1)" font-size="12.0" text-anchor="end" fill="#000">0.075</text><text transform="translate(61.5,89.5) scale(1.135,1)" font-size="12.0" text-anchor="end" fill="#000">0.100</text>
<text transform="translate(329.2,391.8) scale(1.12,1)" font-size="16.5" text-anchor="middle" fill="#000">Time</text><text transform="translate(16.3,192.8) rotate(-90) scale(1.12,1)" font-size="16.5" text-anchor="middle" fill="#000">Difference</text><text transform="translate(329.2,18.0) scale(1.116,1)" font-size="21.0" text-anchor="middle" fill="#000">Absolute Difference in States Over Time</text>
<rect x="87.2" y="41.4" width="167.1" height="25.8" fill="#fff" stroke="#000" stroke-width="1"/><line x1="92.3" y1="54.5" x2="128" y2="54.5" stroke="#0000ff" stroke-width="1.5"/><text transform="translate(131.7,58.8) scale(1.138,1)" font-size="12.0" text-anchor="start" fill="#000">Difference in States</text>
</svg>
</body></html>
